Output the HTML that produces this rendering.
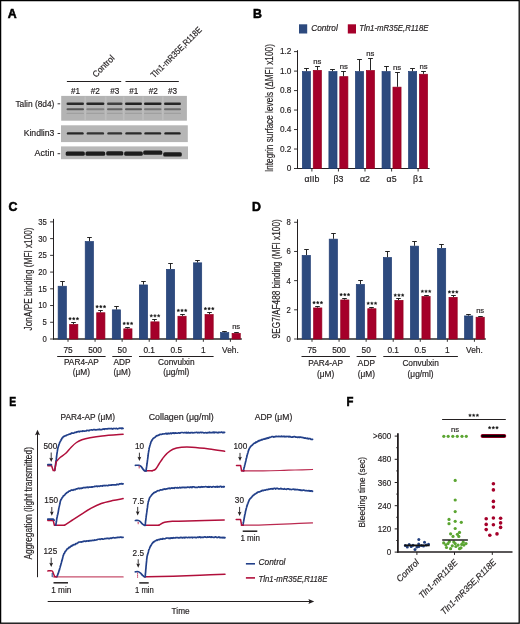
<!DOCTYPE html>
<html><head><meta charset="utf-8"><style>
html,body{margin:0;padding:0;background:#fff;}
svg{display:block;}
text{font-family:"Liberation Sans", sans-serif;fill:#231f20;stroke:#231f20;stroke-width:0.18px;}
svg{filter:grayscale(0);}
</style></head><body>
<svg width="520" height="624" viewBox="0 0 520 624">
<defs>
<filter id="b6" x="-20%" y="-100%" width="140%" height="300%"><feGaussianBlur stdDeviation="0.6"/></filter>
<filter id="b7" x="-20%" y="-100%" width="140%" height="300%"><feGaussianBlur stdDeviation="0.7"/></filter>
<filter id="b8" x="-20%" y="-100%" width="140%" height="300%"><feGaussianBlur stdDeviation="0.8"/></filter>
<filter id="b5" x="-20%" y="-100%" width="140%" height="300%"><feGaussianBlur stdDeviation="0.5"/></filter>
</defs>
<rect x="0" y="0" width="520" height="624" fill="#fff"/>
<text x="7.80" y="17.80" font-size="12.3" font-weight="bold" fill="#000" style="stroke-width:0.55px;fill:#000;stroke:#000">A</text>
<text x="252.90" y="18.30" font-size="12.3" font-weight="bold" fill="#000" style="stroke-width:0.55px;fill:#000;stroke:#000">B</text>
<text x="8.40" y="211.40" font-size="12.3" font-weight="bold" fill="#000" style="stroke-width:0.55px;fill:#000;stroke:#000">C</text>
<text x="251.90" y="211.40" font-size="12.3" font-weight="bold" fill="#000" style="stroke-width:0.55px;fill:#000;stroke:#000">D</text>
<text x="9.30" y="406.30" font-size="12.3" font-weight="bold" fill="#000" textLength="6.9" lengthAdjust="spacingAndGlyphs" style="stroke-width:0.55px;fill:#000;stroke:#000">E</text>
<text x="346.50" y="406.30" font-size="12.3" font-weight="bold" fill="#000" textLength="6.9" lengthAdjust="spacingAndGlyphs" style="stroke-width:0.55px;fill:#000;stroke:#000">F</text>
<text x="96.00" y="77.90" font-size="8.8" textLength="27.0" lengthAdjust="spacingAndGlyphs" transform="rotate(-45 96.00 77.90)">Control</text>
<text x="154.30" y="78.50" font-size="8.8" textLength="68" lengthAdjust="spacingAndGlyphs" transform="rotate(-45 154.30 78.50)">Tln1-mR35E,R118E</text>
<line x1="66.90" y1="81.50" x2="121.20" y2="81.50" stroke="#231f20" stroke-width="1.0"/>
<line x1="125.50" y1="81.50" x2="178.80" y2="81.50" stroke="#231f20" stroke-width="1.0"/>
<text x="75.60" y="94.00" font-size="8.2" text-anchor="middle">#1</text>
<text x="95.30" y="94.00" font-size="8.2" text-anchor="middle">#2</text>
<text x="114.70" y="94.00" font-size="8.2" text-anchor="middle">#3</text>
<text x="133.70" y="94.00" font-size="8.2" text-anchor="middle">#1</text>
<text x="153.20" y="94.00" font-size="8.2" text-anchor="middle">#2</text>
<text x="172.50" y="94.00" font-size="8.2" text-anchor="middle">#3</text>
<text x="54.40" y="107.00" font-size="8.3" text-anchor="end" textLength="39" lengthAdjust="spacingAndGlyphs">Talin (8d4)</text>
<text x="54.40" y="136.00" font-size="8.3" text-anchor="end" textLength="30.7" lengthAdjust="spacingAndGlyphs">Kindlin3</text>
<text x="54.40" y="155.50" font-size="8.3" text-anchor="end" textLength="19.8" lengthAdjust="spacingAndGlyphs">Actin</text>
<line x1="57.60" y1="103.80" x2="60.20" y2="103.80" stroke="#231f20" stroke-width="0.9"/>
<line x1="57.60" y1="133.50" x2="60.20" y2="133.50" stroke="#231f20" stroke-width="0.9"/>
<line x1="57.60" y1="153.70" x2="60.20" y2="153.70" stroke="#231f20" stroke-width="0.9"/>
<rect x="61.20" y="95.90" width="125.70" height="24.80" fill="#b3b3b3"/>
<rect x="61.00" y="125.30" width="126.80" height="16.80" fill="#b6b6b6"/>
<rect x="61.00" y="146.40" width="127.00" height="12.80" fill="#b8b8b8"/>
<rect x="84.40" y="96.5" width="1.6" height="23.5" fill="#bdbdbd" filter="url(#b6)"/>
<rect x="104.90" y="96.5" width="1.6" height="23.5" fill="#bdbdbd" filter="url(#b6)"/>
<rect x="122.90" y="96.5" width="1.6" height="23.5" fill="#bdbdbd" filter="url(#b6)"/>
<rect x="142.20" y="96.5" width="1.6" height="23.5" fill="#bdbdbd" filter="url(#b6)"/>
<rect x="162.00" y="96.5" width="1.6" height="23.5" fill="#bdbdbd" filter="url(#b6)"/>
<rect x="66.50" y="102.40" width="17.50" height="2.60" rx="1.30" fill="#2c2c2c" filter="url(#b5)"/>
<rect x="66.50" y="108.30" width="17.50" height="2.00" rx="1.00" fill="#555555" filter="url(#b5)"/>
<rect x="66.50" y="112.80" width="17.50" height="1.20" rx="0.60" fill="#a0a0a0" filter="url(#b5)"/>
<rect x="86.30" y="102.40" width="18.10" height="2.60" rx="1.30" fill="#262626" filter="url(#b5)"/>
<rect x="86.30" y="108.30" width="18.10" height="2.00" rx="1.00" fill="#808080" filter="url(#b5)"/>
<rect x="86.30" y="112.80" width="18.10" height="1.20" rx="0.60" fill="#a0a0a0" filter="url(#b5)"/>
<rect x="107.00" y="102.40" width="15.50" height="2.60" rx="1.30" fill="#404040" filter="url(#b5)"/>
<rect x="107.00" y="108.30" width="15.50" height="2.00" rx="1.00" fill="#646464" filter="url(#b5)"/>
<rect x="107.00" y="112.80" width="15.50" height="1.20" rx="0.60" fill="#a0a0a0" filter="url(#b5)"/>
<rect x="125.00" y="102.40" width="17.00" height="2.60" rx="1.30" fill="#242424" filter="url(#b5)"/>
<rect x="125.00" y="108.30" width="17.00" height="2.00" rx="1.00" fill="#5a5a5a" filter="url(#b5)"/>
<rect x="125.00" y="112.80" width="17.00" height="1.20" rx="0.60" fill="#a0a0a0" filter="url(#b5)"/>
<rect x="144.00" y="102.40" width="17.50" height="2.60" rx="1.30" fill="#202020" filter="url(#b5)"/>
<rect x="144.00" y="108.30" width="17.50" height="2.00" rx="1.00" fill="#767676" filter="url(#b5)"/>
<rect x="144.00" y="112.80" width="17.50" height="1.20" rx="0.60" fill="#a0a0a0" filter="url(#b5)"/>
<rect x="164.00" y="102.40" width="17.00" height="2.60" rx="1.30" fill="#282828" filter="url(#b5)"/>
<rect x="164.00" y="108.30" width="17.00" height="2.00" rx="1.00" fill="#6a6a6a" filter="url(#b5)"/>
<rect x="164.00" y="112.80" width="17.00" height="1.20" rx="0.60" fill="#a0a0a0" filter="url(#b5)"/>
<rect x="66.80" y="132.20" width="16.90" height="2.40" rx="1.20" fill="#262626" filter="url(#b5)"/>
<rect x="86.60" y="132.20" width="17.50" height="2.40" rx="1.20" fill="#303030" filter="url(#b5)"/>
<rect x="107.30" y="132.20" width="14.90" height="2.40" rx="1.20" fill="#333333" filter="url(#b5)"/>
<rect x="125.30" y="132.20" width="16.40" height="2.40" rx="1.20" fill="#2a2a2a" filter="url(#b5)"/>
<rect x="144.30" y="132.20" width="16.90" height="2.40" rx="1.20" fill="#282828" filter="url(#b5)"/>
<rect x="164.30" y="132.20" width="16.40" height="2.40" rx="1.20" fill="#242424" filter="url(#b5)"/>
<rect x="65.70" y="151.40" width="19.10" height="4.40" rx="1.50" fill="#1a1a1a" filter="url(#b5)"/>
<rect x="85.50" y="151.40" width="19.70" height="4.40" rx="1.50" fill="#1a1a1a" filter="url(#b5)"/>
<rect x="106.20" y="151.20" width="17.10" height="4.40" rx="1.50" fill="#1a1a1a" filter="url(#b5)"/>
<rect x="124.20" y="151.40" width="18.60" height="4.40" rx="1.50" fill="#1a1a1a" filter="url(#b5)"/>
<rect x="143.20" y="150.40" width="19.10" height="4.40" rx="1.50" fill="#1a1a1a" filter="url(#b5)"/>
<rect x="163.20" y="152.20" width="18.60" height="4.40" rx="1.50" fill="#1a1a1a" filter="url(#b5)"/>
<line x1="297.50" y1="50.20" x2="297.50" y2="169.00" stroke="#231f20" stroke-width="1.0"/>
<line x1="297.00" y1="168.50" x2="429.60" y2="168.50" stroke="#231f20" stroke-width="1.0"/>
<line x1="294.00" y1="168.50" x2="297.50" y2="168.50" stroke="#231f20" stroke-width="0.9"/>
<text x="291.40" y="171.20" font-size="8.9" text-anchor="end" textLength="4.6" lengthAdjust="spacingAndGlyphs">0</text>
<line x1="294.00" y1="149.02" x2="297.50" y2="149.02" stroke="#231f20" stroke-width="0.9"/>
<text x="291.40" y="151.72" font-size="8.9" text-anchor="end" textLength="11.51" lengthAdjust="spacingAndGlyphs">0.2</text>
<line x1="294.00" y1="129.54" x2="297.50" y2="129.54" stroke="#231f20" stroke-width="0.9"/>
<text x="291.40" y="132.24" font-size="8.9" text-anchor="end" textLength="11.51" lengthAdjust="spacingAndGlyphs">0.4</text>
<line x1="294.00" y1="110.06" x2="297.50" y2="110.06" stroke="#231f20" stroke-width="0.9"/>
<text x="291.40" y="112.76" font-size="8.9" text-anchor="end" textLength="11.51" lengthAdjust="spacingAndGlyphs">0.6</text>
<line x1="294.00" y1="90.58" x2="297.50" y2="90.58" stroke="#231f20" stroke-width="0.9"/>
<text x="291.40" y="93.28" font-size="8.9" text-anchor="end" textLength="11.51" lengthAdjust="spacingAndGlyphs">0.8</text>
<line x1="294.00" y1="71.10" x2="297.50" y2="71.10" stroke="#231f20" stroke-width="0.9"/>
<text x="291.40" y="73.80" font-size="8.9" text-anchor="end" textLength="11.51" lengthAdjust="spacingAndGlyphs">1.0</text>
<line x1="294.00" y1="51.62" x2="297.50" y2="51.62" stroke="#231f20" stroke-width="0.9"/>
<text x="291.40" y="54.32" font-size="8.9" text-anchor="end" textLength="11.51" lengthAdjust="spacingAndGlyphs">1.2</text>
<text x="273.20" y="108.10" font-size="10.5" text-anchor="middle" textLength="128.0" lengthAdjust="spacingAndGlyphs" transform="rotate(-90 273.20 108.10)">Integrin surface levels (ΔMFI x100)</text>
<rect x="302.35" y="71.60" width="8.10" height="96.90" fill="#2d4a7e" stroke="#223e75" stroke-width="0.7"/>
<rect x="313.25" y="70.35" width="8.10" height="98.15" fill="#a5002a" stroke="#95001f" stroke-width="0.7"/>
<line x1="306.50" y1="71.25" x2="306.50" y2="68.50" stroke="#1a1a1a" stroke-width="0.95"/>
<line x1="304.10" y1="68.50" x2="308.90" y2="68.50" stroke="#1a1a1a" stroke-width="0.95"/>
<line x1="317.50" y1="70.00" x2="317.50" y2="66.50" stroke="#1a1a1a" stroke-width="0.95"/>
<line x1="315.10" y1="66.50" x2="319.90" y2="66.50" stroke="#1a1a1a" stroke-width="0.95"/>
<text x="317.30" y="64.00" font-size="7.7" text-anchor="middle">ns</text>
<line x1="311.90" y1="168.50" x2="311.90" y2="171.50" stroke="#231f20" stroke-width="0.9"/>
<text x="311.90" y="182.30" font-size="8.8" text-anchor="middle">αIIb</text>
<rect x="328.90" y="71.60" width="8.10" height="96.90" fill="#2d4a7e" stroke="#223e75" stroke-width="0.7"/>
<rect x="339.80" y="76.65" width="8.10" height="91.85" fill="#a5002a" stroke="#95001f" stroke-width="0.7"/>
<line x1="332.50" y1="71.25" x2="332.50" y2="69.50" stroke="#1a1a1a" stroke-width="0.95"/>
<line x1="330.10" y1="69.50" x2="334.90" y2="69.50" stroke="#1a1a1a" stroke-width="0.95"/>
<line x1="343.50" y1="76.30" x2="343.50" y2="71.50" stroke="#1a1a1a" stroke-width="0.95"/>
<line x1="341.10" y1="71.50" x2="345.90" y2="71.50" stroke="#1a1a1a" stroke-width="0.95"/>
<text x="343.85" y="69.30" font-size="7.7" text-anchor="middle">ns</text>
<line x1="338.45" y1="168.50" x2="338.45" y2="171.50" stroke="#231f20" stroke-width="0.9"/>
<text x="338.45" y="182.30" font-size="8.8" text-anchor="middle">β3</text>
<rect x="355.45" y="71.60" width="8.10" height="96.90" fill="#2d4a7e" stroke="#223e75" stroke-width="0.7"/>
<rect x="366.35" y="70.55" width="8.10" height="97.95" fill="#a5002a" stroke="#95001f" stroke-width="0.7"/>
<line x1="359.50" y1="71.25" x2="359.50" y2="59.50" stroke="#1a1a1a" stroke-width="0.95"/>
<line x1="357.10" y1="59.50" x2="361.90" y2="59.50" stroke="#1a1a1a" stroke-width="0.95"/>
<line x1="370.50" y1="70.20" x2="370.50" y2="58.50" stroke="#1a1a1a" stroke-width="0.95"/>
<line x1="368.10" y1="58.50" x2="372.90" y2="58.50" stroke="#1a1a1a" stroke-width="0.95"/>
<text x="370.40" y="55.90" font-size="7.7" text-anchor="middle">ns</text>
<line x1="365.00" y1="168.50" x2="365.00" y2="171.50" stroke="#231f20" stroke-width="0.9"/>
<text x="365.00" y="182.30" font-size="8.8" text-anchor="middle">α2</text>
<rect x="382.05" y="71.60" width="8.10" height="96.90" fill="#2d4a7e" stroke="#223e75" stroke-width="0.7"/>
<rect x="392.95" y="87.15" width="8.10" height="81.35" fill="#a5002a" stroke="#95001f" stroke-width="0.7"/>
<line x1="386.50" y1="71.25" x2="386.50" y2="66.50" stroke="#1a1a1a" stroke-width="0.95"/>
<line x1="384.10" y1="66.50" x2="388.90" y2="66.50" stroke="#1a1a1a" stroke-width="0.95"/>
<line x1="397.50" y1="86.80" x2="397.50" y2="72.50" stroke="#1a1a1a" stroke-width="0.95"/>
<line x1="395.10" y1="72.50" x2="399.90" y2="72.50" stroke="#1a1a1a" stroke-width="0.95"/>
<text x="397.00" y="69.80" font-size="7.7" text-anchor="middle">ns</text>
<line x1="391.60" y1="168.50" x2="391.60" y2="171.50" stroke="#231f20" stroke-width="0.9"/>
<text x="391.60" y="182.30" font-size="8.8" text-anchor="middle">α5</text>
<rect x="408.55" y="71.60" width="8.10" height="96.90" fill="#2d4a7e" stroke="#223e75" stroke-width="0.7"/>
<rect x="419.45" y="74.25" width="8.10" height="94.25" fill="#a5002a" stroke="#95001f" stroke-width="0.7"/>
<line x1="412.50" y1="71.25" x2="412.50" y2="68.50" stroke="#1a1a1a" stroke-width="0.95"/>
<line x1="410.10" y1="68.50" x2="414.90" y2="68.50" stroke="#1a1a1a" stroke-width="0.95"/>
<line x1="423.50" y1="73.90" x2="423.50" y2="71.50" stroke="#1a1a1a" stroke-width="0.95"/>
<line x1="421.10" y1="71.50" x2="425.90" y2="71.50" stroke="#1a1a1a" stroke-width="0.95"/>
<text x="423.50" y="68.75" font-size="7.7" text-anchor="middle">ns</text>
<line x1="418.10" y1="168.50" x2="418.10" y2="171.50" stroke="#231f20" stroke-width="0.9"/>
<text x="418.10" y="182.30" font-size="8.8" text-anchor="middle">β1</text>
<rect x="299.00" y="24.30" width="8.20" height="9.20" fill="#2d4a7e"/>
<text x="311.20" y="31.10" font-size="8.2" font-style="italic" textLength="26.6" lengthAdjust="spacingAndGlyphs">Control</text>
<rect x="347.80" y="24.30" width="8.20" height="9.20" fill="#a5002a"/>
<text x="359.20" y="31.10" font-size="8.2" font-style="italic" textLength="69.3" lengthAdjust="spacingAndGlyphs">Tln1-mR35E,R118E</text>
<line x1="53.50" y1="218.89" x2="53.50" y2="339.50" stroke="#231f20" stroke-width="1.0"/>
<line x1="53.00" y1="339.00" x2="241.80" y2="339.00" stroke="#2a2a2a" stroke-width="1.5"/>
<line x1="50.10" y1="339.00" x2="53.50" y2="339.00" stroke="#231f20" stroke-width="0.9"/>
<text x="46.90" y="341.90" font-size="9.0" text-anchor="end" textLength="4.3" lengthAdjust="spacingAndGlyphs">0</text>
<line x1="50.10" y1="322.27" x2="53.50" y2="322.27" stroke="#231f20" stroke-width="0.9"/>
<text x="46.90" y="325.17" font-size="9.0" text-anchor="end" textLength="4.3" lengthAdjust="spacingAndGlyphs">5</text>
<line x1="50.10" y1="305.54" x2="53.50" y2="305.54" stroke="#231f20" stroke-width="0.9"/>
<text x="46.90" y="308.44" font-size="9.0" text-anchor="end" textLength="8.61" lengthAdjust="spacingAndGlyphs">10</text>
<line x1="50.10" y1="288.81" x2="53.50" y2="288.81" stroke="#231f20" stroke-width="0.9"/>
<text x="46.90" y="291.71" font-size="9.0" text-anchor="end" textLength="8.61" lengthAdjust="spacingAndGlyphs">15</text>
<line x1="50.10" y1="272.08" x2="53.50" y2="272.08" stroke="#231f20" stroke-width="0.9"/>
<text x="46.90" y="274.98" font-size="9.0" text-anchor="end" textLength="8.61" lengthAdjust="spacingAndGlyphs">20</text>
<line x1="50.10" y1="255.35" x2="53.50" y2="255.35" stroke="#231f20" stroke-width="0.9"/>
<text x="46.90" y="258.25" font-size="9.0" text-anchor="end" textLength="8.61" lengthAdjust="spacingAndGlyphs">25</text>
<line x1="50.10" y1="238.62" x2="53.50" y2="238.62" stroke="#231f20" stroke-width="0.9"/>
<text x="46.90" y="241.52" font-size="9.0" text-anchor="end" textLength="8.61" lengthAdjust="spacingAndGlyphs">30</text>
<line x1="50.10" y1="221.89" x2="53.50" y2="221.89" stroke="#231f20" stroke-width="0.9"/>
<text x="46.90" y="224.79" font-size="9.0" text-anchor="end" textLength="8.61" lengthAdjust="spacingAndGlyphs">35</text>
<text x="31.80" y="278.90" font-size="10.5" text-anchor="middle" textLength="103.0" lengthAdjust="spacingAndGlyphs" transform="rotate(-90 31.80 278.90)">JonA/PE binding (MFI x100)</text>
<rect x="58.15" y="286.25" width="8.20" height="52.75" fill="#2d4a7e" stroke="#223e75" stroke-width="0.7"/>
<rect x="69.65" y="324.45" width="8.20" height="14.55" fill="#a5002a" stroke="#95001f" stroke-width="0.7"/>
<line x1="62.50" y1="285.90" x2="62.50" y2="281.50" stroke="#1a1a1a" stroke-width="0.95"/>
<line x1="60.20" y1="281.50" x2="64.80" y2="281.50" stroke="#1a1a1a" stroke-width="0.95"/>
<line x1="73.50" y1="324.10" x2="73.50" y2="322.50" stroke="#1a1a1a" stroke-width="0.95"/>
<line x1="71.20" y1="322.50" x2="75.80" y2="322.50" stroke="#1a1a1a" stroke-width="0.95"/>
<line x1="68.00" y1="339.00" x2="68.00" y2="341.80" stroke="#231f20" stroke-width="0.9"/>
<polygon points="70.05,317.20 70.51,318.12 71.52,318.27 70.79,318.99 70.96,320.00 70.05,319.52 69.14,320.00 69.31,318.99 68.58,318.27 69.59,318.12" fill="#1a1a1a" stroke="#1a1a1a" stroke-width="0.35" stroke-linejoin="round"/>
<polygon points="73.75,317.20 74.21,318.12 75.22,318.27 74.49,318.99 74.66,320.00 73.75,319.52 72.84,320.00 73.01,318.99 72.28,318.27 73.29,318.12" fill="#1a1a1a" stroke="#1a1a1a" stroke-width="0.35" stroke-linejoin="round"/>
<polygon points="77.45,317.20 77.91,318.12 78.92,318.27 78.19,318.99 78.36,320.00 77.45,319.52 76.54,320.00 76.71,318.99 75.98,318.27 76.99,318.12" fill="#1a1a1a" stroke="#1a1a1a" stroke-width="0.35" stroke-linejoin="round"/>
<rect x="85.22" y="241.55" width="8.20" height="97.45" fill="#2d4a7e" stroke="#223e75" stroke-width="0.7"/>
<rect x="96.72" y="312.75" width="8.20" height="26.25" fill="#a5002a" stroke="#95001f" stroke-width="0.7"/>
<line x1="89.50" y1="241.20" x2="89.50" y2="237.50" stroke="#1a1a1a" stroke-width="0.95"/>
<line x1="87.20" y1="237.50" x2="91.80" y2="237.50" stroke="#1a1a1a" stroke-width="0.95"/>
<line x1="100.50" y1="312.40" x2="100.50" y2="310.50" stroke="#1a1a1a" stroke-width="0.95"/>
<line x1="98.20" y1="310.50" x2="102.80" y2="310.50" stroke="#1a1a1a" stroke-width="0.95"/>
<line x1="95.07" y1="339.00" x2="95.07" y2="341.80" stroke="#231f20" stroke-width="0.9"/>
<polygon points="97.12,305.10 97.58,306.02 98.59,306.17 97.86,306.89 98.03,307.90 97.12,307.42 96.21,307.90 96.38,306.89 95.65,306.17 96.66,306.02" fill="#1a1a1a" stroke="#1a1a1a" stroke-width="0.35" stroke-linejoin="round"/>
<polygon points="100.82,305.10 101.28,306.02 102.29,306.17 101.56,306.89 101.73,307.90 100.82,307.42 99.91,307.90 100.08,306.89 99.35,306.17 100.36,306.02" fill="#1a1a1a" stroke="#1a1a1a" stroke-width="0.35" stroke-linejoin="round"/>
<polygon points="104.52,305.10 104.98,306.02 105.99,306.17 105.26,306.89 105.43,307.90 104.52,307.42 103.61,307.90 103.78,306.89 103.05,306.17 104.06,306.02" fill="#1a1a1a" stroke="#1a1a1a" stroke-width="0.35" stroke-linejoin="round"/>
<rect x="112.29" y="309.85" width="8.20" height="29.15" fill="#2d4a7e" stroke="#223e75" stroke-width="0.7"/>
<rect x="123.79" y="328.85" width="8.20" height="10.15" fill="#a5002a" stroke="#95001f" stroke-width="0.7"/>
<line x1="116.50" y1="309.50" x2="116.50" y2="306.50" stroke="#1a1a1a" stroke-width="0.95"/>
<line x1="114.20" y1="306.50" x2="118.80" y2="306.50" stroke="#1a1a1a" stroke-width="0.95"/>
<line x1="127.50" y1="328.50" x2="127.50" y2="327.50" stroke="#1a1a1a" stroke-width="0.95"/>
<line x1="125.20" y1="327.50" x2="129.80" y2="327.50" stroke="#1a1a1a" stroke-width="0.95"/>
<line x1="122.14" y1="339.00" x2="122.14" y2="341.80" stroke="#231f20" stroke-width="0.9"/>
<polygon points="124.19,321.90 124.65,322.82 125.66,322.97 124.93,323.69 125.10,324.70 124.19,324.22 123.28,324.70 123.45,323.69 122.72,322.97 123.73,322.82" fill="#1a1a1a" stroke="#1a1a1a" stroke-width="0.35" stroke-linejoin="round"/>
<polygon points="127.89,321.90 128.35,322.82 129.36,322.97 128.63,323.69 128.80,324.70 127.89,324.22 126.98,324.70 127.15,323.69 126.42,322.97 127.43,322.82" fill="#1a1a1a" stroke="#1a1a1a" stroke-width="0.35" stroke-linejoin="round"/>
<polygon points="131.59,321.90 132.05,322.82 133.06,322.97 132.33,323.69 132.50,324.70 131.59,324.22 130.68,324.70 130.85,323.69 130.12,322.97 131.13,322.82" fill="#1a1a1a" stroke="#1a1a1a" stroke-width="0.35" stroke-linejoin="round"/>
<rect x="139.36" y="284.95" width="8.20" height="54.05" fill="#2d4a7e" stroke="#223e75" stroke-width="0.7"/>
<rect x="150.86" y="321.85" width="8.20" height="17.15" fill="#a5002a" stroke="#95001f" stroke-width="0.7"/>
<line x1="143.50" y1="284.60" x2="143.50" y2="281.50" stroke="#1a1a1a" stroke-width="0.95"/>
<line x1="141.20" y1="281.50" x2="145.80" y2="281.50" stroke="#1a1a1a" stroke-width="0.95"/>
<line x1="154.50" y1="321.50" x2="154.50" y2="319.50" stroke="#1a1a1a" stroke-width="0.95"/>
<line x1="152.20" y1="319.50" x2="156.80" y2="319.50" stroke="#1a1a1a" stroke-width="0.95"/>
<line x1="149.21" y1="339.00" x2="149.21" y2="341.80" stroke="#231f20" stroke-width="0.9"/>
<polygon points="151.26,314.30 151.72,315.22 152.73,315.37 152.00,316.09 152.17,317.10 151.26,316.62 150.35,317.10 150.52,316.09 149.79,315.37 150.80,315.22" fill="#1a1a1a" stroke="#1a1a1a" stroke-width="0.35" stroke-linejoin="round"/>
<polygon points="154.96,314.30 155.42,315.22 156.43,315.37 155.70,316.09 155.87,317.10 154.96,316.62 154.05,317.10 154.22,316.09 153.49,315.37 154.50,315.22" fill="#1a1a1a" stroke="#1a1a1a" stroke-width="0.35" stroke-linejoin="round"/>
<polygon points="158.66,314.30 159.12,315.22 160.13,315.37 159.40,316.09 159.57,317.10 158.66,316.62 157.75,317.10 157.92,316.09 157.19,315.37 158.20,315.22" fill="#1a1a1a" stroke="#1a1a1a" stroke-width="0.35" stroke-linejoin="round"/>
<rect x="166.43" y="269.35" width="8.20" height="69.65" fill="#2d4a7e" stroke="#223e75" stroke-width="0.7"/>
<rect x="177.93" y="316.25" width="8.20" height="22.75" fill="#a5002a" stroke="#95001f" stroke-width="0.7"/>
<line x1="170.50" y1="269.00" x2="170.50" y2="263.50" stroke="#1a1a1a" stroke-width="0.95"/>
<line x1="168.20" y1="263.50" x2="172.80" y2="263.50" stroke="#1a1a1a" stroke-width="0.95"/>
<line x1="182.50" y1="315.90" x2="182.50" y2="314.50" stroke="#1a1a1a" stroke-width="0.95"/>
<line x1="180.20" y1="314.50" x2="184.80" y2="314.50" stroke="#1a1a1a" stroke-width="0.95"/>
<line x1="176.28" y1="339.00" x2="176.28" y2="341.80" stroke="#231f20" stroke-width="0.9"/>
<polygon points="178.33,308.90 178.79,309.82 179.80,309.97 179.07,310.69 179.24,311.70 178.33,311.22 177.42,311.70 177.59,310.69 176.86,309.97 177.87,309.82" fill="#1a1a1a" stroke="#1a1a1a" stroke-width="0.35" stroke-linejoin="round"/>
<polygon points="182.03,308.90 182.49,309.82 183.50,309.97 182.77,310.69 182.94,311.70 182.03,311.22 181.12,311.70 181.29,310.69 180.56,309.97 181.57,309.82" fill="#1a1a1a" stroke="#1a1a1a" stroke-width="0.35" stroke-linejoin="round"/>
<polygon points="185.73,308.90 186.19,309.82 187.20,309.97 186.47,310.69 186.64,311.70 185.73,311.22 184.82,311.70 184.99,310.69 184.26,309.97 185.27,309.82" fill="#1a1a1a" stroke="#1a1a1a" stroke-width="0.35" stroke-linejoin="round"/>
<rect x="193.50" y="262.85" width="8.20" height="76.15" fill="#2d4a7e" stroke="#223e75" stroke-width="0.7"/>
<rect x="205.00" y="314.55" width="8.20" height="24.45" fill="#a5002a" stroke="#95001f" stroke-width="0.7"/>
<line x1="197.50" y1="262.50" x2="197.50" y2="260.50" stroke="#1a1a1a" stroke-width="0.95"/>
<line x1="195.20" y1="260.50" x2="199.80" y2="260.50" stroke="#1a1a1a" stroke-width="0.95"/>
<line x1="209.50" y1="314.20" x2="209.50" y2="312.50" stroke="#1a1a1a" stroke-width="0.95"/>
<line x1="207.20" y1="312.50" x2="211.80" y2="312.50" stroke="#1a1a1a" stroke-width="0.95"/>
<line x1="203.35" y1="339.00" x2="203.35" y2="341.80" stroke="#231f20" stroke-width="0.9"/>
<polygon points="205.40,307.10 205.86,308.02 206.87,308.17 206.14,308.89 206.31,309.90 205.40,309.42 204.49,309.90 204.66,308.89 203.93,308.17 204.94,308.02" fill="#1a1a1a" stroke="#1a1a1a" stroke-width="0.35" stroke-linejoin="round"/>
<polygon points="209.10,307.10 209.56,308.02 210.57,308.17 209.84,308.89 210.01,309.90 209.10,309.42 208.19,309.90 208.36,308.89 207.63,308.17 208.64,308.02" fill="#1a1a1a" stroke="#1a1a1a" stroke-width="0.35" stroke-linejoin="round"/>
<polygon points="212.80,307.10 213.26,308.02 214.27,308.17 213.54,308.89 213.71,309.90 212.80,309.42 211.89,309.90 212.06,308.89 211.33,308.17 212.34,308.02" fill="#1a1a1a" stroke="#1a1a1a" stroke-width="0.35" stroke-linejoin="round"/>
<rect x="220.57" y="332.65" width="8.20" height="6.35" fill="#2d4a7e" stroke="#223e75" stroke-width="0.7"/>
<rect x="232.07" y="333.35" width="8.20" height="5.65" fill="#a5002a" stroke="#95001f" stroke-width="0.7"/>
<line x1="224.50" y1="332.30" x2="224.50" y2="331.50" stroke="#1a1a1a" stroke-width="0.95"/>
<line x1="222.20" y1="331.50" x2="226.80" y2="331.50" stroke="#1a1a1a" stroke-width="0.95"/>
<line x1="236.50" y1="333.00" x2="236.50" y2="332.50" stroke="#1a1a1a" stroke-width="0.95"/>
<line x1="234.20" y1="332.50" x2="238.80" y2="332.50" stroke="#1a1a1a" stroke-width="0.95"/>
<line x1="230.42" y1="339.00" x2="230.42" y2="341.80" stroke="#231f20" stroke-width="0.9"/>
<text x="236.17" y="328.70" font-size="7.6" text-anchor="middle">ns</text>
<text x="68.00" y="352.50" font-size="8.3" text-anchor="middle">75</text>
<text x="95.07" y="352.50" font-size="8.3" text-anchor="middle">500</text>
<text x="122.14" y="352.50" font-size="8.3" text-anchor="middle">50</text>
<text x="149.21" y="352.50" font-size="8.3" text-anchor="middle">0.1</text>
<text x="176.28" y="352.50" font-size="8.3" text-anchor="middle">0.5</text>
<text x="203.35" y="352.50" font-size="8.3" text-anchor="middle">1</text>
<text x="230.42" y="352.50" font-size="8.3" text-anchor="middle">Veh.</text>
<line x1="57.20" y1="356.50" x2="105.60" y2="356.50" stroke="#231f20" stroke-width="1.0"/>
<line x1="112.30" y1="356.50" x2="131.90" y2="356.50" stroke="#231f20" stroke-width="1.0"/>
<line x1="139.00" y1="356.50" x2="213.60" y2="356.50" stroke="#231f20" stroke-width="1.0"/>
<text x="81.40" y="364.90" font-size="8.3" text-anchor="middle">PAR4-AP</text>
<text x="81.40" y="375.10" font-size="8.3" text-anchor="middle">(μM)</text>
<text x="122.10" y="364.90" font-size="8.3" text-anchor="middle">ADP</text>
<text x="122.10" y="375.10" font-size="8.3" text-anchor="middle">(μM)</text>
<text x="176.30" y="364.90" font-size="8.3" text-anchor="middle">Convulxin</text>
<text x="176.30" y="375.10" font-size="8.3" text-anchor="middle">(μg/ml)</text>
<line x1="297.50" y1="219.28" x2="297.50" y2="339.50" stroke="#231f20" stroke-width="1.0"/>
<line x1="297.00" y1="339.00" x2="485.80" y2="339.00" stroke="#2a2a2a" stroke-width="1.5"/>
<line x1="294.10" y1="339.00" x2="297.50" y2="339.00" stroke="#231f20" stroke-width="0.9"/>
<text x="290.90" y="341.90" font-size="9.0" text-anchor="end" textLength="4.3" lengthAdjust="spacingAndGlyphs">0</text>
<line x1="294.10" y1="309.82" x2="297.50" y2="309.82" stroke="#231f20" stroke-width="0.9"/>
<text x="290.90" y="312.72" font-size="9.0" text-anchor="end" textLength="4.3" lengthAdjust="spacingAndGlyphs">2</text>
<line x1="294.10" y1="280.64" x2="297.50" y2="280.64" stroke="#231f20" stroke-width="0.9"/>
<text x="290.90" y="283.54" font-size="9.0" text-anchor="end" textLength="4.3" lengthAdjust="spacingAndGlyphs">4</text>
<line x1="294.10" y1="251.46" x2="297.50" y2="251.46" stroke="#231f20" stroke-width="0.9"/>
<text x="290.90" y="254.36" font-size="9.0" text-anchor="end" textLength="4.3" lengthAdjust="spacingAndGlyphs">6</text>
<line x1="294.10" y1="222.28" x2="297.50" y2="222.28" stroke="#231f20" stroke-width="0.9"/>
<text x="290.90" y="225.18" font-size="9.0" text-anchor="end" textLength="4.3" lengthAdjust="spacingAndGlyphs">8</text>
<text x="280.50" y="278.80" font-size="10.5" text-anchor="middle" textLength="119.3" lengthAdjust="spacingAndGlyphs" transform="rotate(-90 280.50 278.80)">9EG7/AF488 binding (MFI x100)</text>
<rect x="302.15" y="255.45" width="8.20" height="83.55" fill="#2d4a7e" stroke="#223e75" stroke-width="0.7"/>
<rect x="313.65" y="307.95" width="8.20" height="31.05" fill="#a5002a" stroke="#95001f" stroke-width="0.7"/>
<line x1="306.50" y1="255.10" x2="306.50" y2="249.50" stroke="#1a1a1a" stroke-width="0.95"/>
<line x1="304.20" y1="249.50" x2="308.80" y2="249.50" stroke="#1a1a1a" stroke-width="0.95"/>
<line x1="317.50" y1="307.60" x2="317.50" y2="306.50" stroke="#1a1a1a" stroke-width="0.95"/>
<line x1="315.20" y1="306.50" x2="319.80" y2="306.50" stroke="#1a1a1a" stroke-width="0.95"/>
<line x1="312.00" y1="339.00" x2="312.00" y2="341.80" stroke="#231f20" stroke-width="0.9"/>
<polygon points="314.05,301.10 314.51,302.02 315.52,302.17 314.79,302.89 314.96,303.90 314.05,303.42 313.14,303.90 313.31,302.89 312.58,302.17 313.59,302.02" fill="#1a1a1a" stroke="#1a1a1a" stroke-width="0.35" stroke-linejoin="round"/>
<polygon points="317.75,301.10 318.21,302.02 319.22,302.17 318.49,302.89 318.66,303.90 317.75,303.42 316.84,303.90 317.01,302.89 316.28,302.17 317.29,302.02" fill="#1a1a1a" stroke="#1a1a1a" stroke-width="0.35" stroke-linejoin="round"/>
<polygon points="321.45,301.10 321.91,302.02 322.92,302.17 322.19,302.89 322.36,303.90 321.45,303.42 320.54,303.90 320.71,302.89 319.98,302.17 320.99,302.02" fill="#1a1a1a" stroke="#1a1a1a" stroke-width="0.35" stroke-linejoin="round"/>
<rect x="329.22" y="239.15" width="8.20" height="99.85" fill="#2d4a7e" stroke="#223e75" stroke-width="0.7"/>
<rect x="340.72" y="299.95" width="8.20" height="39.05" fill="#a5002a" stroke="#95001f" stroke-width="0.7"/>
<line x1="333.50" y1="238.80" x2="333.50" y2="233.50" stroke="#1a1a1a" stroke-width="0.95"/>
<line x1="331.20" y1="233.50" x2="335.80" y2="233.50" stroke="#1a1a1a" stroke-width="0.95"/>
<line x1="344.50" y1="299.60" x2="344.50" y2="298.50" stroke="#1a1a1a" stroke-width="0.95"/>
<line x1="342.20" y1="298.50" x2="346.80" y2="298.50" stroke="#1a1a1a" stroke-width="0.95"/>
<line x1="339.07" y1="339.00" x2="339.07" y2="341.80" stroke="#231f20" stroke-width="0.9"/>
<polygon points="341.12,293.10 341.58,294.02 342.59,294.17 341.86,294.89 342.03,295.90 341.12,295.42 340.21,295.90 340.38,294.89 339.65,294.17 340.66,294.02" fill="#1a1a1a" stroke="#1a1a1a" stroke-width="0.35" stroke-linejoin="round"/>
<polygon points="344.82,293.10 345.28,294.02 346.29,294.17 345.56,294.89 345.73,295.90 344.82,295.42 343.91,295.90 344.08,294.89 343.35,294.17 344.36,294.02" fill="#1a1a1a" stroke="#1a1a1a" stroke-width="0.35" stroke-linejoin="round"/>
<polygon points="348.52,293.10 348.98,294.02 349.99,294.17 349.26,294.89 349.43,295.90 348.52,295.42 347.61,295.90 347.78,294.89 347.05,294.17 348.06,294.02" fill="#1a1a1a" stroke="#1a1a1a" stroke-width="0.35" stroke-linejoin="round"/>
<rect x="356.29" y="284.45" width="8.20" height="54.55" fill="#2d4a7e" stroke="#223e75" stroke-width="0.7"/>
<rect x="367.79" y="308.75" width="8.20" height="30.25" fill="#a5002a" stroke="#95001f" stroke-width="0.7"/>
<line x1="360.50" y1="284.10" x2="360.50" y2="280.50" stroke="#1a1a1a" stroke-width="0.95"/>
<line x1="358.20" y1="280.50" x2="362.80" y2="280.50" stroke="#1a1a1a" stroke-width="0.95"/>
<line x1="371.50" y1="308.40" x2="371.50" y2="307.50" stroke="#1a1a1a" stroke-width="0.95"/>
<line x1="369.20" y1="307.50" x2="373.80" y2="307.50" stroke="#1a1a1a" stroke-width="0.95"/>
<line x1="366.14" y1="339.00" x2="366.14" y2="341.80" stroke="#231f20" stroke-width="0.9"/>
<polygon points="368.19,301.80 368.65,302.72 369.66,302.87 368.93,303.59 369.10,304.60 368.19,304.12 367.28,304.60 367.45,303.59 366.72,302.87 367.73,302.72" fill="#1a1a1a" stroke="#1a1a1a" stroke-width="0.35" stroke-linejoin="round"/>
<polygon points="371.89,301.80 372.35,302.72 373.36,302.87 372.63,303.59 372.80,304.60 371.89,304.12 370.98,304.60 371.15,303.59 370.42,302.87 371.43,302.72" fill="#1a1a1a" stroke="#1a1a1a" stroke-width="0.35" stroke-linejoin="round"/>
<polygon points="375.59,301.80 376.05,302.72 377.06,302.87 376.33,303.59 376.50,304.60 375.59,304.12 374.68,304.60 374.85,303.59 374.12,302.87 375.13,302.72" fill="#1a1a1a" stroke="#1a1a1a" stroke-width="0.35" stroke-linejoin="round"/>
<rect x="383.36" y="257.55" width="8.20" height="81.45" fill="#2d4a7e" stroke="#223e75" stroke-width="0.7"/>
<rect x="394.86" y="300.35" width="8.20" height="38.65" fill="#a5002a" stroke="#95001f" stroke-width="0.7"/>
<line x1="387.50" y1="257.20" x2="387.50" y2="251.50" stroke="#1a1a1a" stroke-width="0.95"/>
<line x1="385.20" y1="251.50" x2="389.80" y2="251.50" stroke="#1a1a1a" stroke-width="0.95"/>
<line x1="398.50" y1="300.00" x2="398.50" y2="298.50" stroke="#1a1a1a" stroke-width="0.95"/>
<line x1="396.20" y1="298.50" x2="400.80" y2="298.50" stroke="#1a1a1a" stroke-width="0.95"/>
<line x1="393.21" y1="339.00" x2="393.21" y2="341.80" stroke="#231f20" stroke-width="0.9"/>
<polygon points="395.26,293.60 395.72,294.52 396.73,294.67 396.00,295.39 396.17,296.40 395.26,295.92 394.35,296.40 394.52,295.39 393.79,294.67 394.80,294.52" fill="#1a1a1a" stroke="#1a1a1a" stroke-width="0.35" stroke-linejoin="round"/>
<polygon points="398.96,293.60 399.42,294.52 400.43,294.67 399.70,295.39 399.87,296.40 398.96,295.92 398.05,296.40 398.22,295.39 397.49,294.67 398.50,294.52" fill="#1a1a1a" stroke="#1a1a1a" stroke-width="0.35" stroke-linejoin="round"/>
<polygon points="402.66,293.60 403.12,294.52 404.13,294.67 403.40,295.39 403.57,296.40 402.66,295.92 401.75,296.40 401.92,295.39 401.19,294.67 402.20,294.52" fill="#1a1a1a" stroke="#1a1a1a" stroke-width="0.35" stroke-linejoin="round"/>
<rect x="410.43" y="246.15" width="8.20" height="92.85" fill="#2d4a7e" stroke="#223e75" stroke-width="0.7"/>
<rect x="421.93" y="296.55" width="8.20" height="42.45" fill="#a5002a" stroke="#95001f" stroke-width="0.7"/>
<line x1="414.50" y1="245.80" x2="414.50" y2="241.50" stroke="#1a1a1a" stroke-width="0.95"/>
<line x1="412.20" y1="241.50" x2="416.80" y2="241.50" stroke="#1a1a1a" stroke-width="0.95"/>
<line x1="426.50" y1="296.20" x2="426.50" y2="295.50" stroke="#1a1a1a" stroke-width="0.95"/>
<line x1="424.20" y1="295.50" x2="428.80" y2="295.50" stroke="#1a1a1a" stroke-width="0.95"/>
<line x1="420.28" y1="339.00" x2="420.28" y2="341.80" stroke="#231f20" stroke-width="0.9"/>
<polygon points="422.33,289.80 422.79,290.72 423.80,290.87 423.07,291.59 423.24,292.60 422.33,292.12 421.42,292.60 421.59,291.59 420.86,290.87 421.87,290.72" fill="#1a1a1a" stroke="#1a1a1a" stroke-width="0.35" stroke-linejoin="round"/>
<polygon points="426.03,289.80 426.49,290.72 427.50,290.87 426.77,291.59 426.94,292.60 426.03,292.12 425.12,292.60 425.29,291.59 424.56,290.87 425.57,290.72" fill="#1a1a1a" stroke="#1a1a1a" stroke-width="0.35" stroke-linejoin="round"/>
<polygon points="429.73,289.80 430.19,290.72 431.20,290.87 430.47,291.59 430.64,292.60 429.73,292.12 428.82,292.60 428.99,291.59 428.26,290.87 429.27,290.72" fill="#1a1a1a" stroke="#1a1a1a" stroke-width="0.35" stroke-linejoin="round"/>
<rect x="437.50" y="248.35" width="8.20" height="90.65" fill="#2d4a7e" stroke="#223e75" stroke-width="0.7"/>
<rect x="449.00" y="297.35" width="8.20" height="41.65" fill="#a5002a" stroke="#95001f" stroke-width="0.7"/>
<line x1="441.50" y1="248.00" x2="441.50" y2="244.50" stroke="#1a1a1a" stroke-width="0.95"/>
<line x1="439.20" y1="244.50" x2="443.80" y2="244.50" stroke="#1a1a1a" stroke-width="0.95"/>
<line x1="453.50" y1="297.00" x2="453.50" y2="295.50" stroke="#1a1a1a" stroke-width="0.95"/>
<line x1="451.20" y1="295.50" x2="455.80" y2="295.50" stroke="#1a1a1a" stroke-width="0.95"/>
<line x1="447.35" y1="339.00" x2="447.35" y2="341.80" stroke="#231f20" stroke-width="0.9"/>
<polygon points="449.40,290.40 449.86,291.32 450.87,291.47 450.14,292.19 450.31,293.20 449.40,292.72 448.49,293.20 448.66,292.19 447.93,291.47 448.94,291.32" fill="#1a1a1a" stroke="#1a1a1a" stroke-width="0.35" stroke-linejoin="round"/>
<polygon points="453.10,290.40 453.56,291.32 454.57,291.47 453.84,292.19 454.01,293.20 453.10,292.72 452.19,293.20 452.36,292.19 451.63,291.47 452.64,291.32" fill="#1a1a1a" stroke="#1a1a1a" stroke-width="0.35" stroke-linejoin="round"/>
<polygon points="456.80,290.40 457.26,291.32 458.27,291.47 457.54,292.19 457.71,293.20 456.80,292.72 455.89,293.20 456.06,292.19 455.33,291.47 456.34,291.32" fill="#1a1a1a" stroke="#1a1a1a" stroke-width="0.35" stroke-linejoin="round"/>
<rect x="464.57" y="315.95" width="8.20" height="23.05" fill="#2d4a7e" stroke="#223e75" stroke-width="0.7"/>
<rect x="476.07" y="317.25" width="8.20" height="21.75" fill="#a5002a" stroke="#95001f" stroke-width="0.7"/>
<line x1="468.50" y1="315.60" x2="468.50" y2="314.50" stroke="#1a1a1a" stroke-width="0.95"/>
<line x1="466.20" y1="314.50" x2="470.80" y2="314.50" stroke="#1a1a1a" stroke-width="0.95"/>
<line x1="480.50" y1="316.90" x2="480.50" y2="316.50" stroke="#1a1a1a" stroke-width="0.95"/>
<line x1="478.20" y1="316.50" x2="482.80" y2="316.50" stroke="#1a1a1a" stroke-width="0.95"/>
<line x1="474.42" y1="339.00" x2="474.42" y2="341.80" stroke="#231f20" stroke-width="0.9"/>
<text x="480.17" y="312.60" font-size="7.6" text-anchor="middle">ns</text>
<text x="312.00" y="352.95" font-size="8.3" text-anchor="middle">75</text>
<text x="339.07" y="352.95" font-size="8.3" text-anchor="middle">500</text>
<text x="366.14" y="352.95" font-size="8.3" text-anchor="middle">50</text>
<text x="393.21" y="352.95" font-size="8.3" text-anchor="middle">0.1</text>
<text x="420.28" y="352.95" font-size="8.3" text-anchor="middle">0.5</text>
<text x="447.35" y="352.95" font-size="8.3" text-anchor="middle">1</text>
<text x="474.42" y="352.95" font-size="8.3" text-anchor="middle">Veh.</text>
<line x1="301.50" y1="356.50" x2="349.90" y2="356.50" stroke="#231f20" stroke-width="1.0"/>
<line x1="356.60" y1="356.50" x2="376.20" y2="356.50" stroke="#231f20" stroke-width="1.0"/>
<line x1="383.30" y1="356.50" x2="457.90" y2="356.50" stroke="#231f20" stroke-width="1.0"/>
<text x="325.70" y="366.40" font-size="8.3" text-anchor="middle">PAR4-AP</text>
<text x="325.70" y="376.60" font-size="8.3" text-anchor="middle">(μM)</text>
<text x="366.40" y="366.40" font-size="8.3" text-anchor="middle">ADP</text>
<text x="366.40" y="376.60" font-size="8.3" text-anchor="middle">(μM)</text>
<text x="420.60" y="366.40" font-size="8.3" text-anchor="middle">Convulxin</text>
<text x="420.60" y="376.60" font-size="8.3" text-anchor="middle">(μg/ml)</text>
<text x="87.80" y="420.00" font-size="8.3" text-anchor="middle" textLength="54.5" lengthAdjust="spacingAndGlyphs">PAR4-AP (μM)</text>
<text x="181.20" y="420.20" font-size="8.3" text-anchor="middle" textLength="65" lengthAdjust="spacingAndGlyphs">Collagen (μg/ml)</text>
<text x="273.50" y="420.20" font-size="8.3" text-anchor="middle" textLength="37.5" lengthAdjust="spacingAndGlyphs">ADP (μM)</text>
<line x1="37.50" y1="433.00" x2="37.50" y2="577.20" stroke="#231f20" stroke-width="1.0"/>
<path d="M37.5,429.8 L35.0,435.3 L37.5,434.3 L40.0,435.3 Z" fill="#231f20"/>
<text x="32.00" y="503.30" font-size="10.6" text-anchor="middle" textLength="112.6" lengthAdjust="spacingAndGlyphs" transform="rotate(-90 32.00 503.30)">Aggregation (light transmitted)</text>
<line x1="47.70" y1="601.50" x2="311.00" y2="601.50" stroke="#231f20" stroke-width="1.0"/>
<path d="M314.2,601.5 L308.4,599.0 L309.4,601.5 L308.4,604.0 Z" fill="#231f20"/>
<text x="180.60" y="613.70" font-size="8.3" text-anchor="middle" textLength="18" lengthAdjust="spacingAndGlyphs">Time</text>
<text x="50.40" y="448.70" font-size="8.2" text-anchor="middle">500</text>
<line x1="51.20" y1="452.50" x2="51.20" y2="459.00" stroke="#231f20" stroke-width="0.9"/>
<path d="M51.20,462.10 L49.30,457.70 L51.20,458.50 L53.10,457.70 Z" fill="#231f20"/>
<path d="M56.30,461.50 C56.98,460.80 58.82,458.67 60.40,457.30 C61.98,455.93 64.00,454.98 65.80,453.30 C67.60,451.62 69.42,449.00 71.20,447.20 C72.98,445.40 74.72,443.73 76.50,442.50 C78.28,441.27 79.65,440.58 81.90,439.80 C84.15,439.02 86.63,438.43 90.00,437.80 C93.37,437.17 96.58,436.58 102.10,436.00 C107.62,435.42 119.60,434.58 123.10,434.30" fill="none" stroke="#b10f3b" stroke-width="1.5" stroke-linejoin="round" stroke-linecap="round"/>
<path d="M54.70,470.50 L54.75,470.02 L54.82,469.45 L54.90,469.27 L54.99,468.27 L55.09,467.96 L55.19,467.16 L55.29,466.23 L55.40,465.82 L55.51,464.76 L55.61,464.32 L55.71,463.37 L55.80,462.71 L55.88,462.34 L55.96,462.00 L56.04,460.88 L56.12,460.31 L56.20,459.95 L56.27,459.53 L56.35,458.63 L56.43,457.87 L56.50,457.65 L56.58,456.39 L56.65,456.37 L56.73,455.40 L56.80,454.75 L56.90,453.99 L57.00,453.41 L57.09,453.08 L57.18,451.99 L57.28,451.64 L57.37,451.07 L57.48,450.28 L57.58,449.82 L57.70,448.89 L57.84,448.24 L57.99,447.71 L58.15,447.42 L58.32,446.64 L58.49,445.98 L58.66,445.61 L58.83,444.98 L59.00,444.36 L59.25,443.97 L59.49,443.26 L59.74,442.33 L60.04,441.94 L60.40,441.22 L60.66,440.98 L60.92,440.36 L61.20,439.51 L61.50,439.45 L61.83,438.30 L62.20,437.99 L62.62,437.73 L63.10,436.86 L63.52,436.76 L63.99,436.14 L64.48,436.28 L65.00,436.07 L65.55,435.67 L66.12,435.63 L66.70,434.98 L67.29,435.01 L67.90,434.70 L68.50,434.46 L69.04,434.16 L69.55,434.23 L70.05,434.12 L70.56,433.60 L71.08,433.56 L71.63,432.96 L72.22,433.24 L72.85,433.03 L73.56,433.10 L74.33,432.80 L75.20,432.25 L75.67,432.23 L76.17,432.33 L76.69,431.79 L77.23,432.00 L77.79,431.70 L78.37,431.56 L78.96,431.42 L79.58,431.82 L80.20,431.28 L80.83,431.26 L81.47,431.27 L82.12,431.51 L82.78,430.86 L83.44,431.03 L84.10,431.00 L84.76,431.15 L85.41,431.02 L86.07,430.96 L86.71,430.47 L87.35,430.49 L87.98,430.37 L88.60,430.67 L89.20,430.65 L89.80,430.02 L90.38,429.98 L90.95,429.96 L91.51,429.90 L92.07,430.02 L92.63,430.04 L93.19,429.76 L93.74,429.53 L94.31,429.78 L94.87,429.70 L95.45,429.79 L96.04,430.02 L96.63,429.79 L97.25,429.62 L97.87,429.65 L98.52,429.65 L99.19,429.17 L99.88,429.72 L100.59,429.59 L101.33,429.61 L102.10,429.51 L102.61,429.19 L103.14,429.17 L103.70,428.93 L104.29,429.27 L104.89,428.84 L105.51,428.81 L106.16,428.87 L106.81,428.81 L107.48,428.90 L108.17,428.66 L108.86,428.59 L109.56,428.67 L110.26,428.60 L110.97,428.75 L111.68,428.48 L112.39,429.04 L113.09,428.83 L113.79,428.47 L114.49,428.51 L115.18,428.55 L115.85,428.53 L116.52,428.33 L117.16,428.81 L117.80,428.88 L118.41,428.49 L119.01,428.47 L119.58,428.17 L120.12,428.16 L120.64,428.30 L121.14,428.22 L121.60,428.60 L122.03,428.11 L122.42,428.00 L122.78,428.63 L123.10,428.30" fill="none" stroke="#22408a" stroke-width="1.7" stroke-linejoin="round" stroke-linecap="round"/>
<path d="M47.80,465.80 L51.60,465.80 L53.20,470.50 L54.70,470.50 L56.30,461.50" fill="none" stroke="#b10f3b" stroke-width="1.5" stroke-linejoin="round" stroke-linecap="round"/>
<path d="M47.80,464.70 L51.40,464.70" fill="none" stroke="#22408a" stroke-width="1.7" stroke-linejoin="round" stroke-linecap="round"/>
<text x="51.20" y="503.20" font-size="8.2" text-anchor="middle">150</text>
<line x1="51.80" y1="507.00" x2="51.80" y2="512.70" stroke="#231f20" stroke-width="0.9"/>
<path d="M51.80,515.80 L49.90,511.40 L51.80,512.20 L53.70,511.40 Z" fill="#231f20"/>
<path d="M47.80,520.50 L53.20,520.50 L54.40,525.30 L64.40,525.30 " fill="none" stroke="#b10f3b" stroke-width="1.5" stroke-linejoin="round" stroke-linecap="round"/>
<path d="M64.40,525.30 C65.75,524.42 69.69,521.82 72.50,520.00 C75.31,518.18 78.12,516.38 81.25,514.40 C84.38,512.42 87.92,509.92 91.25,508.10 C94.58,506.28 97.71,504.75 101.25,503.50 C104.79,502.25 108.86,501.42 112.50,500.60 C116.14,499.78 121.33,498.93 123.10,498.60" fill="none" stroke="#b10f3b" stroke-width="1.5" stroke-linejoin="round" stroke-linecap="round"/>
<path d="M55.80,525.20 L55.86,524.85 L55.93,524.10 L56.02,523.82 L56.11,522.82 L56.21,522.49 L56.32,522.08 L56.44,521.26 L56.56,520.40 L56.67,519.37 L56.79,518.75 L56.90,517.95 L57.00,517.79 L57.13,516.92 L57.27,516.43 L57.40,515.50 L57.53,514.82 L57.67,514.65 L57.80,514.19 L57.93,513.51 L58.07,512.86 L58.20,512.22 L58.32,511.55 L58.44,510.55 L58.56,510.10 L58.68,509.32 L58.80,508.42 L58.92,507.75 L59.04,507.27 L59.16,506.62 L59.28,506.31 L59.40,505.92 L59.55,504.88 L59.69,504.56 L59.83,503.95 L59.98,503.32 L60.12,502.32 L60.27,501.65 L60.43,501.12 L60.60,500.59 L60.88,499.85 L61.15,499.49 L61.45,499.08 L61.80,498.45 L62.20,497.59 L62.53,497.25 L62.88,496.90 L63.25,495.94 L63.65,495.88 L64.08,495.60 L64.53,495.05 L65.00,494.58 L65.44,493.97 L65.92,493.33 L66.41,493.31 L66.92,492.56 L67.45,492.46 L67.97,492.19 L68.49,491.43 L69.00,491.13 L69.64,491.20 L70.24,490.82 L70.85,490.27 L71.49,490.09 L72.19,489.96 L73.00,490.28 L73.52,490.07 L74.03,489.46 L74.55,489.77 L75.09,489.72 L75.67,489.33 L76.29,488.95 L76.96,488.92 L77.69,488.46 L78.50,488.22 L79.40,488.73 L79.88,488.43 L80.38,488.27 L80.90,488.48 L81.43,488.05 L81.98,488.28 L82.55,488.18 L83.13,487.67 L83.73,487.63 L84.34,487.58 L84.97,487.47 L85.61,487.64 L86.26,487.34 L86.93,487.38 L87.61,487.10 L88.29,487.57 L89.00,487.11 L89.71,487.11 L90.43,487.12 L91.16,487.26 L91.90,486.84 L92.44,487.13 L93.00,486.79 L93.57,486.75 L94.15,486.68 L94.74,486.27 L95.35,486.50 L95.97,486.26 L96.59,486.07 L97.22,486.57 L97.86,486.07 L98.51,486.21 L99.16,486.33 L99.81,486.15 L100.46,485.92 L101.12,485.99 L101.77,485.96 L102.42,486.05 L103.08,485.52 L103.72,485.77 L104.37,485.49 L105.00,485.45 L105.63,485.74 L106.25,485.49 L106.87,485.47 L107.47,485.55 L108.06,485.60 L108.64,485.22 L109.20,485.28 L109.88,485.14 L110.58,485.07 L111.28,485.13 L111.99,484.89 L112.71,484.87 L113.42,484.76 L114.13,485.02 L114.83,484.78 L115.53,484.83 L116.22,484.81 L116.90,484.26 L117.56,484.40 L118.20,484.61 L118.83,484.47 L119.43,483.92 L120.00,483.85 L120.55,484.02 L121.07,483.71 L121.55,483.78 L122.00,483.61 L122.41,483.99 L122.78,484.03 L123.10,483.80" fill="none" stroke="#22408a" stroke-width="1.7" stroke-linejoin="round" stroke-linecap="round"/>
<path d="M47.80,519.20 L53.40,519.20 L54.30,520.20" fill="none" stroke="#22408a" stroke-width="1.7" stroke-linejoin="round" stroke-linecap="round"/>
<text x="50.40" y="554.20" font-size="8.2" text-anchor="middle">125</text>
<line x1="51.20" y1="557.70" x2="51.20" y2="564.00" stroke="#231f20" stroke-width="0.9"/>
<path d="M51.20,567.10 L49.30,562.70 L51.20,563.50 L53.10,562.70 Z" fill="#231f20"/>
<path d="M53.50,576.90 L123.10,576.90" fill="none" stroke="#c8506e" stroke-width="1.3" stroke-linejoin="round" stroke-linecap="round"/>
<path d="M56.60,576.70 L56.87,576.80 L57.40,575.36 L57.55,575.36 L57.72,574.84 L57.91,573.95 L58.11,573.88 L58.32,573.31 L58.54,572.13 L58.75,571.96 L58.97,570.88 L59.19,570.26 L59.40,569.94 L59.57,569.27 L59.75,568.22 L59.93,567.80 L60.11,567.25 L60.30,566.50 L60.48,565.77 L60.66,565.23 L60.84,564.90 L61.01,563.79 L61.18,563.57 L61.35,562.91 L61.50,562.06 L61.69,561.56 L61.88,561.06 L62.05,560.29 L62.21,559.30 L62.37,559.29 L62.53,558.52 L62.68,558.04 L62.84,556.86 L63.00,556.44 L63.23,555.55 L63.44,555.42 L63.66,554.48 L63.88,553.83 L64.12,553.50 L64.40,553.29 L64.71,552.66 L65.05,551.71 L65.41,551.09 L65.79,551.09 L66.18,550.34 L66.60,549.94 L67.03,549.05 L67.49,548.59 L67.96,548.62 L68.46,548.03 L68.97,547.39 L69.50,547.61 L69.97,547.06 L70.46,546.85 L70.96,546.02 L71.47,546.25 L72.00,545.39 L72.54,545.64 L73.10,545.07 L73.69,544.70 L74.33,544.57 L74.98,544.56 L75.64,543.84 L76.27,543.49 L76.87,543.54 L77.40,543.12 L77.95,542.72 L78.22,542.51 L78.74,542.19 L80.00,541.99 L80.38,541.99 L80.79,541.91 L81.23,542.15 L81.70,541.74 L82.19,541.81 L82.72,541.50 L83.26,541.53 L83.83,541.21 L84.42,541.28 L85.03,541.02 L85.66,541.43 L86.30,541.21 L86.97,540.86 L87.64,540.97 L88.33,541.19 L89.03,540.51 L89.73,540.92 L90.45,540.55 L91.17,540.49 L91.90,540.63 L92.41,540.26 L92.94,540.27 L93.48,540.32 L94.04,540.45 L94.61,539.93 L95.19,540.20 L95.78,540.03 L96.38,539.91 L96.98,539.67 L97.60,539.55 L98.22,539.26 L98.85,539.24 L99.48,539.12 L100.11,539.51 L100.74,539.09 L101.38,538.95 L102.01,538.81 L102.65,539.27 L103.28,539.21 L103.90,539.00 L104.52,538.66 L105.14,538.56 L105.75,538.52 L106.35,538.57 L106.94,538.30 L107.53,538.44 L108.10,538.25 L108.65,538.68 L109.20,538.63 L109.88,538.27 L110.58,537.99 L111.28,538.43 L111.99,537.92 L112.71,537.89 L113.42,537.59 L114.13,537.80 L114.83,537.81 L115.53,537.78 L116.22,537.53 L116.90,537.69 L117.56,537.30 L118.20,537.44 L118.83,537.28 L119.43,537.46 L120.00,537.17 L120.55,537.13 L121.07,537.29 L121.55,537.21 L122.00,537.43 L122.41,537.37 L122.78,537.50 L123.10,537.30" fill="none" stroke="#22408a" stroke-width="1.7" stroke-linejoin="round" stroke-linecap="round"/>
<path d="M47.80,570.90 C48.50,570.90 51.07,570.47 52.00,570.90 C52.93,571.33 52.93,572.55 53.40,573.50 C53.87,574.45 54.27,576.07 54.80,576.60 C55.33,577.13 56.30,576.68 56.60,576.70" fill="none" stroke="#b10f3b" stroke-width="1.5" stroke-linejoin="round" stroke-linecap="round"/>
<path d="M52.20,573.20 L52.20,577.00" fill="none" stroke="#22408a" stroke-width="1.1" stroke-linejoin="round" stroke-linecap="round" stroke-dasharray="1.2 1"/>
<line x1="53.50" y1="582.80" x2="68.00" y2="582.80" stroke="#231f20" stroke-width="1.5"/>
<text x="61.30" y="592.90" font-size="8.2" text-anchor="middle" textLength="20" lengthAdjust="spacingAndGlyphs">1 min</text>
<text x="139.50" y="448.80" font-size="8.2" text-anchor="middle">10</text>
<line x1="139.40" y1="452.70" x2="139.40" y2="458.00" stroke="#231f20" stroke-width="0.9"/>
<path d="M139.40,461.10 L137.50,456.70 L139.40,457.50 L141.30,456.70 Z" fill="#231f20"/>
<path d="M152.10,470.80 C152.68,470.52 154.45,470.23 155.60,469.10 C156.75,467.97 157.85,465.73 159.00,464.00 C160.15,462.27 161.20,460.43 162.50,458.70 C163.80,456.97 165.07,455.18 166.80,453.60 C168.53,452.02 170.45,450.25 172.90,449.20 C175.35,448.15 178.33,447.63 181.50,447.30 C184.67,446.97 187.28,446.93 191.90,447.20 C196.52,447.47 203.75,448.22 209.20,448.90 C214.65,449.58 222.03,450.90 224.60,451.30" fill="none" stroke="#b10f3b" stroke-width="1.5" stroke-linejoin="round" stroke-linecap="round"/>
<path d="M144.40,470.80 L152.10,470.80" fill="none" stroke="#b10f3b" stroke-width="1.5" stroke-linejoin="round" stroke-linecap="round"/>
<path d="M146.00,470.80 L146.05,470.56 L146.12,470.17 L146.19,469.79 L146.28,468.89 L146.37,468.23 L146.47,468.03 L146.57,466.75 L146.68,466.43 L146.79,465.62 L146.89,464.44 L147.00,464.23 L147.07,463.73 L147.15,462.96 L147.23,462.43 L147.31,461.85 L147.39,460.72 L147.48,460.33 L147.56,459.63 L147.65,459.18 L147.74,458.48 L147.82,457.83 L147.91,457.00 L147.99,456.57 L148.07,455.80 L148.15,455.22 L148.23,454.33 L148.30,453.67 L148.41,452.97 L148.52,452.41 L148.62,451.57 L148.72,451.45 L148.81,450.67 L148.91,450.15 L149.00,449.62 L149.10,449.13 L149.20,448.49 L149.30,447.65 L149.47,447.42 L149.65,446.67 L149.83,445.85 L150.01,445.25 L150.20,444.73 L150.40,443.70 L150.61,443.54 L150.82,442.59 L151.04,441.86 L151.28,441.41 L151.53,441.18 L151.80,440.29 L152.11,440.11 L152.40,439.79 L152.74,438.98 L153.19,438.43 L153.80,437.99 L154.18,437.84 L154.61,437.59 L155.07,437.17 L155.56,436.85 L156.09,436.13 L156.64,435.85 L157.21,435.62 L157.79,435.67 L158.39,435.10 L159.00,435.05 L159.53,434.48 L160.02,434.35 L160.50,434.35 L160.98,434.51 L161.48,434.41 L162.02,434.29 L162.62,433.93 L163.30,433.99 L164.08,433.86 L164.97,433.77 L166.00,433.43 L166.43,433.94 L166.86,433.41 L167.29,433.92 L167.72,433.85 L168.15,433.17 L168.59,433.44 L169.04,433.66 L169.49,433.73 L169.96,433.33 L170.43,433.17 L170.93,433.09 L171.43,433.57 L171.96,433.02 L172.51,433.25 L173.07,432.91 L173.67,433.15 L174.28,433.42 L174.93,432.81 L175.60,433.26 L176.31,433.02 L177.05,433.25 L177.82,433.09 L178.63,432.74 L179.48,433.18 L180.37,432.86 L181.30,432.52 L182.28,432.48 L183.30,432.79 L183.74,432.76 L184.20,432.64 L184.68,432.52 L185.17,432.65 L185.68,432.63 L186.21,432.98 L186.75,432.39 L187.31,432.90 L187.88,432.96 L188.47,432.44 L189.07,433.00 L189.68,432.84 L190.31,432.97 L190.94,432.53 L191.59,432.58 L192.24,432.59 L192.91,433.00 L193.58,432.71 L194.26,432.54 L194.95,432.58 L195.65,432.47 L196.35,432.30 L197.05,432.33 L197.77,432.84 L198.48,432.45 L199.21,432.90 L199.93,432.41 L200.66,432.42 L201.38,432.58 L202.11,432.35 L202.84,432.47 L203.57,432.87 L204.30,432.82 L205.03,432.76 L205.76,432.63 L206.48,432.82 L207.20,432.84 L207.92,432.56 L208.63,432.67 L209.34,432.20 L210.04,432.67 L210.74,432.47 L211.43,432.67 L212.11,432.59 L212.78,432.34 L213.45,432.17 L214.10,432.78 L214.75,432.21 L215.38,432.45 L216.00,432.35 L216.62,432.32 L217.22,432.62 L217.80,432.79 L218.37,432.28 L218.93,432.55 L219.48,432.30 L220.00,432.48 L220.51,432.36 L221.01,432.20 L221.49,432.19 L221.95,432.22 L222.39,432.70 L222.81,432.41 L223.21,432.22 L223.59,432.69 L223.95,432.75 L224.28,432.37 L224.60,432.40" fill="none" stroke="#22408a" stroke-width="1.7" stroke-linejoin="round" stroke-linecap="round"/>
<path d="M135.40,465.30 C136.00,465.30 138.07,465.12 139.00,465.30 C139.93,465.48 140.37,465.80 141.00,466.40 C141.63,467.00 142.20,468.17 142.80,468.90 C143.40,469.63 144.07,470.48 144.60,470.80 C145.13,471.12 145.77,470.80 146.00,470.80" fill="none" stroke="#22408a" stroke-width="1.7" stroke-linejoin="round" stroke-linecap="round"/>
<path d="M139.20,466.00 L139.20,468.00" fill="none" stroke="#c8506e" stroke-width="1.1" stroke-linejoin="round" stroke-linecap="round"/>
<text x="138.30" y="503.70" font-size="8.2" text-anchor="middle">7.5</text>
<line x1="137.70" y1="506.90" x2="137.70" y2="512.50" stroke="#231f20" stroke-width="0.9"/>
<path d="M137.70,515.60 L135.80,511.20 L137.70,512.00 L139.60,511.20 Z" fill="#231f20"/>
<path d="M158.80,525.20 C159.77,524.72 162.35,522.95 164.60,522.30 C166.85,521.65 168.45,521.52 172.30,521.30 C176.15,521.08 179.05,521.22 187.70,521.00 C196.35,520.78 218.12,520.17 224.20,520.00" fill="none" stroke="#b10f3b" stroke-width="1.5" stroke-linejoin="round" stroke-linecap="round"/>
<path d="M144.40,525.20 L158.80,525.20" fill="none" stroke="#b10f3b" stroke-width="1.5" stroke-linejoin="round" stroke-linecap="round"/>
<path d="M145.20,525.20 L145.24,524.58 L145.29,524.17 L145.34,523.57 L145.40,523.15 L145.47,522.32 L145.54,521.72 L145.62,521.00 L145.71,520.44 L145.80,519.87 L145.90,518.97 L145.97,518.22 L146.04,517.66 L146.11,517.15 L146.19,516.44 L146.28,515.78 L146.36,514.94 L146.45,514.44 L146.54,514.26 L146.63,513.02 L146.72,512.63 L146.80,512.07 L146.89,511.61 L146.97,510.55 L147.05,510.01 L147.13,509.44 L147.20,509.03 L147.30,508.29 L147.40,507.92 L147.49,507.17 L147.57,506.54 L147.65,505.33 L147.73,504.75 L147.81,504.66 L147.90,504.25 L148.00,503.41 L148.10,502.96 L148.25,501.82 L148.40,501.42 L148.56,501.17 L148.73,500.49 L148.92,499.92 L149.14,499.42 L149.40,498.32 L149.69,497.63 L150.00,497.06 L150.33,496.72 L150.69,496.25 L151.09,495.87 L151.52,495.17 L152.00,494.60 L152.45,494.25 L152.93,493.62 L153.44,493.29 L153.97,492.54 L154.54,492.69 L155.13,491.95 L155.75,492.10 L156.40,491.60 L156.94,491.13 L157.51,490.79 L158.10,490.68 L158.71,490.77 L159.34,490.63 L159.98,490.05 L160.62,489.86 L161.28,490.03 L161.94,489.91 L162.60,489.62 L163.16,489.37 L163.67,489.50 L164.15,488.96 L164.62,489.04 L165.10,489.04 L165.62,489.27 L166.20,488.94 L166.87,489.00 L167.64,488.60 L168.54,488.32 L169.60,488.22 L170.02,488.68 L170.45,488.46 L170.88,488.14 L171.32,487.90 L171.76,488.20 L172.22,488.28 L172.68,488.06 L173.15,487.91 L173.63,488.16 L174.13,488.30 L174.64,487.77 L175.16,487.60 L175.69,487.77 L176.24,487.79 L176.81,487.93 L177.39,487.56 L177.99,487.94 L178.60,487.86 L179.24,487.66 L179.89,487.42 L180.57,487.92 L181.26,487.42 L181.98,487.74 L182.72,487.30 L183.49,487.26 L184.28,487.60 L185.09,487.25 L185.94,487.67 L186.80,487.33 L187.70,487.08 L188.17,487.09 L188.65,487.21 L189.15,487.37 L189.67,487.56 L190.21,486.98 L190.77,487.14 L191.34,487.00 L191.93,487.52 L192.53,486.93 L193.14,486.85 L193.77,486.84 L194.41,487.06 L195.06,487.40 L195.72,487.38 L196.39,487.26 L197.07,487.44 L197.75,487.38 L198.45,486.94 L199.15,486.83 L199.86,487.35 L200.57,487.20 L201.28,486.69 L202.00,487.12 L202.73,486.91 L203.45,486.90 L204.18,486.86 L204.91,486.73 L205.63,486.60 L206.36,486.79 L207.08,486.83 L207.80,487.24 L208.52,486.65 L209.23,487.23 L209.94,486.69 L210.65,486.78 L211.34,487.10 L212.04,487.09 L212.72,486.81 L213.39,486.53 L214.06,486.82 L214.71,486.74 L215.35,487.11 L215.98,486.60 L216.60,486.71 L217.21,487.07 L217.80,486.46 L218.38,486.72 L218.94,486.99 L219.49,486.95 L220.02,486.44 L220.53,486.43 L221.02,486.44 L221.49,487.03 L221.95,486.56 L222.38,486.90 L222.79,487.00 L223.18,486.60 L223.54,486.55 L223.88,487.03 L224.20,486.70" fill="none" stroke="#22408a" stroke-width="1.7" stroke-linejoin="round" stroke-linecap="round"/>
<path d="M135.40,520.50 C135.90,520.50 137.58,520.32 138.40,520.50 C139.22,520.68 139.70,521.08 140.30,521.60 C140.90,522.12 141.30,522.98 142.00,523.60 C142.70,524.22 143.93,525.03 144.50,525.30 C145.07,525.57 145.25,525.22 145.40,525.20" fill="none" stroke="#22408a" stroke-width="1.7" stroke-linejoin="round" stroke-linecap="round"/>
<path d="M138.20,522.20 L138.20,523.80" fill="none" stroke="#c8506e" stroke-width="1.1" stroke-linejoin="round" stroke-linecap="round"/>
<text x="138.30" y="556.00" font-size="8.2" text-anchor="middle">2.5</text>
<line x1="138.20" y1="559.30" x2="138.20" y2="564.70" stroke="#231f20" stroke-width="0.9"/>
<path d="M138.20,567.80 L136.30,563.40 L138.20,564.20 L140.10,563.40 Z" fill="#231f20"/>
<path d="M144.20,576.70 C146.83,576.68 154.03,576.72 160.00,576.60 C165.97,576.48 173.33,576.22 180.00,576.00 C186.67,575.78 192.50,575.60 200.00,575.30 C207.50,575.00 220.83,574.38 225.00,574.20" fill="none" stroke="#b10f3b" stroke-width="1.5" stroke-linejoin="round" stroke-linecap="round"/>
<path d="M145.20,576.40 L145.23,576.15 L145.26,575.52 L145.30,575.40 L145.34,574.64 L145.39,574.09 L145.44,573.34 L145.49,573.27 L145.54,572.76 L145.60,571.91 L145.66,571.45 L145.72,570.11 L145.78,569.54 L145.84,568.98 L145.91,568.59 L145.97,567.85 L146.03,566.71 L146.10,565.88 L146.17,565.28 L146.23,564.60 L146.29,564.20 L146.36,562.99 L146.42,562.76 L146.48,562.07 L146.54,561.52 L146.60,560.91 L146.65,560.25 L146.70,559.55 L146.75,559.08 L146.80,558.70 L146.95,557.79 L147.08,556.41 L147.20,555.85 L147.31,555.78 L147.42,555.06 L147.54,554.60 L147.66,554.19 L147.80,554.04 L147.95,553.28 L148.09,553.16 L148.23,552.51 L148.38,552.00 L148.55,550.90 L148.74,550.17 L148.95,549.56 L149.20,549.20 L149.42,548.80 L149.67,548.04 L149.93,547.28 L150.20,546.79 L150.49,546.32 L150.80,545.74 L151.11,545.21 L151.43,544.72 L151.76,544.08 L152.10,543.23 L152.53,543.23 L152.98,542.40 L153.45,542.19 L153.93,541.70 L154.43,541.63 L154.94,540.95 L155.46,540.70 L156.00,540.42 L156.54,540.10 L157.07,540.38 L157.61,539.96 L158.16,539.60 L158.75,539.48 L159.38,539.74 L160.06,539.25 L160.80,538.91 L161.32,539.22 L161.84,539.02 L162.37,539.17 L162.91,538.46 L163.47,538.64 L164.06,538.81 L164.68,538.75 L165.34,538.74 L166.05,538.06 L166.81,538.18 L167.62,537.99 L168.50,537.98 L168.97,538.50 L169.45,538.20 L169.92,538.42 L170.40,538.00 L170.88,538.32 L171.37,538.01 L171.87,537.85 L172.38,538.19 L172.90,538.29 L173.44,537.68 L174.00,538.01 L174.57,538.01 L175.16,537.71 L175.78,537.79 L176.42,537.61 L177.09,537.64 L177.79,537.66 L178.52,537.88 L179.28,537.89 L180.08,537.56 L180.91,537.40 L181.79,537.60 L182.70,537.82 L183.16,537.47 L183.63,537.54 L184.13,537.46 L184.64,537.86 L185.16,537.67 L185.71,537.32 L186.26,537.33 L186.83,537.52 L187.41,537.61 L188.01,537.66 L188.62,537.26 L189.23,537.29 L189.86,537.65 L190.49,537.43 L191.14,537.33 L191.79,537.33 L192.44,537.76 L193.10,537.30 L193.77,537.46 L194.44,537.30 L195.11,537.32 L195.79,537.62 L196.47,537.69 L197.14,537.24 L197.82,537.10 L198.50,537.46 L199.17,537.08 L199.85,536.92 L200.51,537.54 L201.18,537.19 L201.84,537.45 L202.49,537.15 L203.14,537.47 L203.78,537.16 L204.41,536.94 L205.03,536.83 L205.65,537.19 L206.25,537.25 L206.84,537.43 L207.42,536.84 L207.98,537.21 L208.53,537.03 L209.07,537.12 L209.59,536.86 L210.09,536.95 L210.58,537.12 L211.05,537.40 L211.50,536.83 L212.44,537.10 L213.35,537.33 L214.23,537.45 L215.07,536.93 L215.88,536.91 L216.65,537.50 L217.39,537.56 L218.10,537.24 L218.78,536.98 L219.43,537.62 L220.05,537.28 L220.64,537.68 L221.20,537.52 L221.73,537.70 L222.23,537.27 L222.71,537.75 L223.15,537.39 L223.57,537.54 L223.97,537.88 L224.34,537.89 L224.68,537.46 L225.00,537.70" fill="none" stroke="#22408a" stroke-width="1.7" stroke-linejoin="round" stroke-linecap="round"/>
<path d="M135.30,571.80 C135.80,571.80 137.42,571.57 138.30,571.80 C139.18,572.03 139.88,572.62 140.60,573.20 C141.32,573.78 141.93,574.72 142.60,575.30 C143.27,575.88 144.13,576.48 144.60,576.70 C145.07,576.92 145.27,576.62 145.40,576.60" fill="none" stroke="#22408a" stroke-width="1.7" stroke-linejoin="round" stroke-linecap="round"/>
<path d="M137.60,573.00 L137.60,577.50" fill="none" stroke="#c8506e" stroke-width="1.0" stroke-linejoin="round" stroke-linecap="round" stroke-dasharray="1.2 1"/>
<line x1="139.20" y1="582.90" x2="148.70" y2="582.90" stroke="#231f20" stroke-width="1.5"/>
<text x="144.40" y="592.50" font-size="8.2" text-anchor="middle" textLength="18.8" lengthAdjust="spacingAndGlyphs">1 min</text>
<text x="240.40" y="448.50" font-size="8.2" text-anchor="middle">100</text>
<line x1="240.00" y1="452.90" x2="240.00" y2="458.00" stroke="#231f20" stroke-width="0.9"/>
<path d="M240.00,461.10 L238.10,456.70 L240.00,457.50 L241.90,456.70 Z" fill="#231f20"/>
<path d="M241.30,470.80 C244.92,470.80 256.55,470.85 263.00,470.80 C269.45,470.75 274.67,470.63 280.00,470.50 C285.33,470.37 289.58,470.17 295.00,470.00 C300.42,469.83 309.58,469.58 312.50,469.50" fill="none" stroke="#bb2a50" stroke-width="1.25" stroke-linejoin="round" stroke-linecap="round"/>
<path d="M243.30,470.80 L243.40,470.24 L243.52,469.90 L243.66,469.43 L243.83,468.73 L244.00,467.88 L244.19,467.26 L244.38,466.87 L244.57,466.26 L244.75,464.94 L244.93,464.60 L245.10,464.08 L245.24,462.99 L245.39,462.96 L245.53,461.85 L245.67,461.59 L245.81,460.95 L245.95,460.40 L246.09,459.58 L246.23,459.06 L246.37,458.58 L246.51,457.89 L246.66,457.48 L246.80,456.76 L246.97,456.08 L247.15,455.12 L247.32,454.86 L247.50,454.10 L247.68,453.26 L247.85,452.99 L248.03,452.38 L248.22,451.56 L248.41,450.80 L248.60,450.48 L248.87,449.54 L249.14,448.93 L249.41,448.58 L249.69,447.81 L249.99,447.55 L250.32,447.11 L250.70,446.28 L251.11,446.20 L251.55,445.33 L252.02,445.32 L252.52,444.90 L253.05,444.27 L253.61,443.52 L254.20,443.40 L254.68,442.98 L255.17,443.05 L255.68,442.16 L256.21,442.34 L256.76,442.12 L257.33,441.63 L257.93,441.39 L258.55,440.66 L259.20,440.94 L259.71,440.39 L260.25,440.52 L260.81,440.31 L261.39,439.60 L261.98,439.86 L262.58,439.78 L263.19,439.01 L263.80,439.04 L264.41,439.16 L265.02,438.58 L265.61,438.94 L266.20,438.34 L266.82,438.55 L267.42,437.90 L268.02,437.97 L268.60,438.09 L269.19,437.42 L269.79,437.30 L270.40,437.31 L271.03,437.03 L271.68,436.70 L272.37,436.68 L273.10,436.56 L273.63,437.04 L274.17,436.81 L274.73,436.91 L275.31,436.36 L275.90,436.75 L276.50,436.25 L277.11,436.51 L277.73,436.56 L278.35,436.34 L278.98,436.69 L279.61,436.45 L280.24,436.46 L280.86,436.67 L281.48,436.12 L282.10,436.74 L282.70,436.49 L283.30,436.33 L283.90,436.63 L284.50,436.27 L285.10,436.80 L285.70,436.54 L286.30,436.41 L286.90,436.73 L287.50,436.54 L288.10,436.39 L288.70,436.83 L289.30,436.38 L289.90,436.96 L290.50,436.61 L291.10,436.92 L291.70,437.20 L292.30,436.96 L292.90,437.05 L293.49,436.84 L294.09,436.65 L294.68,436.71 L295.27,436.82 L295.86,437.18 L296.45,437.09 L297.04,437.18 L297.63,437.48 L298.23,436.99 L298.83,437.10 L299.43,437.45 L300.04,437.06 L300.65,437.11 L301.27,437.42 L301.90,437.32 L302.51,437.58 L303.17,437.58 L303.85,437.93 L304.55,438.05 L305.27,437.90 L305.99,438.31 L306.72,438.34 L307.44,438.22 L308.15,438.91 L308.84,438.55 L309.50,438.61 L310.13,438.69 L310.71,439.17 L311.25,439.44 L311.73,439.46 L312.15,439.27 L312.50,439.40" fill="none" stroke="#22408a" stroke-width="1.7" stroke-linejoin="round" stroke-linecap="round"/>
<path d="M236.50,465.40 L240.60,465.40 L241.60,470.80 L244.20,470.80" fill="none" stroke="#b10f3b" stroke-width="1.5" stroke-linejoin="round" stroke-linecap="round"/>
<text x="239.40" y="503.10" font-size="8.2" text-anchor="middle">30</text>
<line x1="239.60" y1="506.90" x2="239.60" y2="513.00" stroke="#231f20" stroke-width="0.9"/>
<path d="M239.60,516.10 L237.70,511.70 L239.60,512.50 L241.50,511.70 Z" fill="#231f20"/>
<path d="M241.30,525.20 C243.58,525.20 250.22,525.30 255.00,525.20 C259.78,525.10 264.17,524.83 270.00,524.60 C275.83,524.37 282.92,524.08 290.00,523.80 C297.08,523.52 308.75,523.05 312.50,522.90" fill="none" stroke="#bb2a50" stroke-width="1.25" stroke-linejoin="round" stroke-linecap="round"/>
<path d="M242.90,525.20 L242.96,524.69 L243.04,524.10 L243.13,524.07 L243.23,523.48 L243.33,522.75 L243.45,522.34 L243.57,521.54 L243.70,521.20 L243.83,520.36 L243.96,519.30 L244.10,519.04 L244.23,517.71 L244.37,517.34 L244.50,516.55 L244.63,515.76 L244.76,514.99 L244.88,514.88 L244.99,513.78 L245.10,513.64 L245.26,513.16 L245.41,511.89 L245.56,511.27 L245.70,510.93 L245.84,510.26 L245.97,509.79 L246.11,509.36 L246.24,508.39 L246.38,507.97 L246.52,507.46 L246.66,506.78 L246.80,506.87 L247.02,506.07 L247.24,505.32 L247.45,504.17 L247.68,504.12 L247.90,503.45 L248.13,502.67 L248.36,502.31 L248.60,501.57 L248.92,500.74 L249.23,500.05 L249.54,499.57 L249.89,498.89 L250.27,498.55 L250.70,498.27 L251.06,497.79 L251.44,497.45 L251.84,496.90 L252.27,496.14 L252.72,495.90 L253.19,495.38 L253.68,495.21 L254.20,494.62 L254.68,494.09 L255.17,494.02 L255.68,493.92 L256.21,493.08 L256.76,493.23 L257.33,492.32 L257.93,492.20 L258.55,491.90 L259.20,491.97 L259.71,491.90 L260.23,491.56 L260.77,491.06 L261.32,491.24 L261.88,490.65 L262.46,490.40 L263.05,490.68 L263.66,490.31 L264.28,490.18 L264.91,490.00 L265.55,490.07 L266.20,489.58 L266.77,489.73 L267.34,489.53 L267.92,489.55 L268.50,489.17 L269.10,489.29 L269.70,489.11 L270.32,488.86 L270.95,488.73 L271.58,488.97 L272.24,488.54 L272.90,489.08 L273.59,488.51 L274.28,488.39 L275.00,488.42 L275.54,488.99 L276.08,488.57 L276.62,488.42 L277.18,488.34 L277.73,488.35 L278.30,488.81 L278.87,488.78 L279.45,488.83 L280.04,488.88 L280.64,488.42 L281.24,488.81 L281.86,488.68 L282.49,489.02 L283.13,489.05 L283.78,489.13 L284.44,488.59 L285.11,489.18 L285.80,489.25 L286.50,489.31 L287.05,488.76 L287.61,488.86 L288.20,488.83 L288.80,488.82 L289.41,489.43 L290.03,489.45 L290.66,489.37 L291.31,489.55 L291.96,489.47 L292.61,489.28 L293.27,489.20 L293.93,489.25 L294.59,489.76 L295.24,489.43 L295.90,489.56 L296.55,489.69 L297.19,489.46 L297.83,489.68 L298.45,489.75 L299.06,490.11 L299.67,489.92 L300.25,489.93 L300.82,490.43 L301.37,490.16 L301.90,490.45 L302.67,490.35 L303.43,490.00 L304.19,490.34 L304.95,490.43 L305.69,490.73 L306.42,490.50 L307.14,490.82 L307.83,490.77 L308.49,490.61 L309.13,491.12 L309.74,490.64 L310.31,491.21 L310.84,490.81 L311.33,490.74 L311.77,490.92 L312.16,491.35 L312.50,491.20" fill="none" stroke="#22408a" stroke-width="1.7" stroke-linejoin="round" stroke-linecap="round"/>
<path d="M236.20,519.60 L240.60,519.60 L241.60,525.20 L243.30,525.20" fill="none" stroke="#b10f3b" stroke-width="1.5" stroke-linejoin="round" stroke-linecap="round"/>
<line x1="242.70" y1="531.20" x2="257.30" y2="531.20" stroke="#231f20" stroke-width="1.5"/>
<text x="250.20" y="540.80" font-size="8.2" text-anchor="middle" textLength="19.6" lengthAdjust="spacingAndGlyphs">1 min</text>
<line x1="245.90" y1="563.80" x2="255.00" y2="563.80" stroke="#22408a" stroke-width="1.6"/>
<text x="258.60" y="565.40" font-size="8.2" font-style="italic" textLength="26.8" lengthAdjust="spacingAndGlyphs">Control</text>
<line x1="245.90" y1="577.90" x2="255.00" y2="577.90" stroke="#b10f3b" stroke-width="1.6"/>
<text x="258.60" y="581.50" font-size="8.2" font-style="italic" textLength="68.7" lengthAdjust="spacingAndGlyphs">Tln1-mR35E,R118E</text>
<line x1="397.90" y1="433.30" x2="397.90" y2="552.80" stroke="#231f20" stroke-width="1.8"/>
<line x1="397.00" y1="552.10" x2="512.50" y2="552.10" stroke="#231f20" stroke-width="1.5"/>
<line x1="394.70" y1="552.10" x2="397.90" y2="552.10" stroke="#231f20" stroke-width="1.0"/>
<line x1="396.20" y1="540.50" x2="397.90" y2="540.50" stroke="#231f20" stroke-width="0.9"/>
<line x1="394.70" y1="528.90" x2="397.90" y2="528.90" stroke="#231f20" stroke-width="1.0"/>
<line x1="396.20" y1="517.30" x2="397.90" y2="517.30" stroke="#231f20" stroke-width="0.9"/>
<line x1="394.70" y1="505.70" x2="397.90" y2="505.70" stroke="#231f20" stroke-width="1.0"/>
<line x1="396.20" y1="494.10" x2="397.90" y2="494.10" stroke="#231f20" stroke-width="0.9"/>
<line x1="394.70" y1="482.50" x2="397.90" y2="482.50" stroke="#231f20" stroke-width="1.0"/>
<line x1="396.20" y1="470.90" x2="397.90" y2="470.90" stroke="#231f20" stroke-width="0.9"/>
<line x1="394.70" y1="459.30" x2="397.90" y2="459.30" stroke="#231f20" stroke-width="1.0"/>
<line x1="396.20" y1="447.70" x2="397.90" y2="447.70" stroke="#231f20" stroke-width="0.9"/>
<line x1="394.70" y1="436.10" x2="397.90" y2="436.10" stroke="#231f20" stroke-width="1.0"/>
<text x="391.30" y="555.10" font-size="9.2" text-anchor="end" textLength="4.5" lengthAdjust="spacingAndGlyphs">0</text>
<text x="391.30" y="531.90" font-size="9.2" text-anchor="end" textLength="13.5" lengthAdjust="spacingAndGlyphs">120</text>
<text x="391.30" y="508.70" font-size="9.2" text-anchor="end" textLength="13.5" lengthAdjust="spacingAndGlyphs">240</text>
<text x="391.30" y="485.50" font-size="9.2" text-anchor="end" textLength="13.5" lengthAdjust="spacingAndGlyphs">360</text>
<text x="391.30" y="462.30" font-size="9.2" text-anchor="end" textLength="13.5" lengthAdjust="spacingAndGlyphs">480</text>
<text x="391.30" y="439.10" font-size="9.2" text-anchor="end" textLength="18.23" lengthAdjust="spacingAndGlyphs">&gt;600</text>
<text x="365.10" y="492.20" font-size="9.4" text-anchor="middle" textLength="70.6" lengthAdjust="spacingAndGlyphs" transform="rotate(-90 365.10 492.20)">Bleeding time (sec)</text>
<line x1="416.90" y1="552.10" x2="416.90" y2="554.90" stroke="#231f20" stroke-width="1.0"/>
<line x1="454.50" y1="552.10" x2="454.50" y2="554.90" stroke="#231f20" stroke-width="1.0"/>
<line x1="492.30" y1="552.10" x2="492.30" y2="554.90" stroke="#231f20" stroke-width="1.0"/>
<text x="419.60" y="563.00" font-size="9.0" text-anchor="end" font-style="italic" textLength="27.6" lengthAdjust="spacingAndGlyphs" transform="rotate(-45 419.60 563.00)">Control</text>
<text x="458.20" y="563.20" font-size="9.0" text-anchor="end" font-style="italic" textLength="50.6" lengthAdjust="spacingAndGlyphs" transform="rotate(-45 458.20 563.20)">Tln1-mR118E</text>
<text x="496.80" y="562.80" font-size="9.0" text-anchor="end" font-style="italic" textLength="74.2" lengthAdjust="spacingAndGlyphs" transform="rotate(-45 496.80 562.80)">Tln1-mR35E,R118E</text>
<circle cx="418.80" cy="539.60" r="1.5" fill="#23407f"/>
<circle cx="424.50" cy="542.30" r="1.5" fill="#23407f"/>
<circle cx="418.70" cy="544.00" r="1.5" fill="#23407f"/>
<circle cx="405.40" cy="545.40" r="1.5" fill="#23407f"/>
<circle cx="409.20" cy="544.50" r="1.5" fill="#23407f"/>
<circle cx="407.30" cy="546.90" r="1.5" fill="#23407f"/>
<circle cx="411.20" cy="546.50" r="1.5" fill="#23407f"/>
<circle cx="415.00" cy="549.60" r="1.5" fill="#23407f"/>
<circle cx="416.90" cy="547.00" r="1.5" fill="#23407f"/>
<circle cx="418.80" cy="546.50" r="1.5" fill="#23407f"/>
<circle cx="421.50" cy="545.50" r="1.5" fill="#23407f"/>
<circle cx="426.20" cy="545.00" r="1.5" fill="#23407f"/>
<circle cx="428.50" cy="544.20" r="1.5" fill="#23407f"/>
<circle cx="413.00" cy="545.20" r="1.5" fill="#23407f"/>
<circle cx="423.50" cy="546.00" r="1.5" fill="#23407f"/>
<line x1="404.20" y1="545.40" x2="429.60" y2="545.40" stroke="#111" stroke-width="1.8"/>
<circle cx="455.20" cy="480.40" r="1.6" fill="#5ba532"/>
<circle cx="455.20" cy="500.00" r="1.6" fill="#5ba532"/>
<circle cx="455.20" cy="511.60" r="1.6" fill="#5ba532"/>
<circle cx="449.00" cy="519.40" r="1.6" fill="#5ba532"/>
<circle cx="455.20" cy="521.30" r="1.6" fill="#5ba532"/>
<circle cx="461.30" cy="522.30" r="1.6" fill="#5ba532"/>
<circle cx="449.00" cy="523.70" r="1.6" fill="#5ba532"/>
<circle cx="455.20" cy="528.50" r="1.6" fill="#5ba532"/>
<circle cx="450.60" cy="533.80" r="1.6" fill="#5ba532"/>
<circle cx="453.00" cy="536.40" r="1.6" fill="#5ba532"/>
<circle cx="457.40" cy="534.30" r="1.6" fill="#5ba532"/>
<circle cx="459.50" cy="532.40" r="1.6" fill="#5ba532"/>
<circle cx="458.80" cy="536.40" r="1.6" fill="#5ba532"/>
<circle cx="443.70" cy="542.90" r="1.6" fill="#5ba532"/>
<circle cx="445.80" cy="544.80" r="1.6" fill="#5ba532"/>
<circle cx="448.00" cy="543.60" r="1.6" fill="#5ba532"/>
<circle cx="450.60" cy="548.70" r="1.6" fill="#5ba532"/>
<circle cx="452.30" cy="545.80" r="1.6" fill="#5ba532"/>
<circle cx="455.20" cy="543.60" r="1.6" fill="#5ba532"/>
<circle cx="455.90" cy="546.50" r="1.6" fill="#5ba532"/>
<circle cx="458.10" cy="545.10" r="1.6" fill="#5ba532"/>
<circle cx="459.50" cy="548.70" r="1.6" fill="#5ba532"/>
<circle cx="461.70" cy="544.40" r="1.6" fill="#5ba532"/>
<circle cx="463.90" cy="545.10" r="1.6" fill="#5ba532"/>
<circle cx="466.00" cy="543.60" r="1.6" fill="#5ba532"/>
<circle cx="453.80" cy="541.90" r="1.6" fill="#5ba532"/>
<circle cx="449.40" cy="541.50" r="1.6" fill="#5ba532"/>
<circle cx="463.20" cy="542.20" r="1.6" fill="#5ba532"/>
<circle cx="446.50" cy="547.50" r="1.6" fill="#5ba532"/>
<circle cx="461.00" cy="547.80" r="1.6" fill="#5ba532"/>
<circle cx="443.80" cy="436.30" r="1.6" fill="#5ba532"/>
<circle cx="448.20" cy="436.30" r="1.6" fill="#5ba532"/>
<circle cx="452.80" cy="436.30" r="1.6" fill="#5ba532"/>
<circle cx="457.30" cy="436.30" r="1.6" fill="#5ba532"/>
<circle cx="462.00" cy="436.30" r="1.6" fill="#5ba532"/>
<circle cx="466.30" cy="436.30" r="1.6" fill="#5ba532"/>
<line x1="442.20" y1="540.00" x2="467.90" y2="540.00" stroke="#111" stroke-width="1.4"/>
<text x="455.10" y="431.70" font-size="7.6" text-anchor="middle">ns</text>
<circle cx="493.40" cy="483.70" r="1.8" fill="#a5002a"/>
<circle cx="493.40" cy="489.90" r="1.8" fill="#a5002a"/>
<circle cx="493.40" cy="501.40" r="1.8" fill="#a5002a"/>
<circle cx="493.40" cy="507.10" r="1.8" fill="#a5002a"/>
<circle cx="486.20" cy="518.80" r="1.8" fill="#a5002a"/>
<circle cx="493.40" cy="518.00" r="1.8" fill="#a5002a"/>
<circle cx="500.60" cy="518.30" r="1.8" fill="#a5002a"/>
<circle cx="486.20" cy="524.40" r="1.8" fill="#a5002a"/>
<circle cx="493.40" cy="524.80" r="1.8" fill="#a5002a"/>
<circle cx="500.60" cy="522.90" r="1.8" fill="#a5002a"/>
<circle cx="486.20" cy="529.60" r="1.8" fill="#a5002a"/>
<circle cx="500.60" cy="527.40" r="1.8" fill="#a5002a"/>
<circle cx="489.80" cy="535.30" r="1.8" fill="#a5002a"/>
<circle cx="497.00" cy="533.90" r="1.8" fill="#a5002a"/>
<line x1="482.5" y1="436.0" x2="504.3" y2="436.0" stroke="#b0002c" stroke-width="3.9" stroke-linecap="round"/>
<line x1="482.4" y1="436.0" x2="504.4" y2="436.0" stroke="#0a0000" stroke-width="2.3" stroke-linecap="round"/>
<polygon points="489.60,426.20 490.06,427.12 491.07,427.27 490.34,427.99 490.51,429.00 489.60,428.52 488.69,429.00 488.86,427.99 488.13,427.27 489.14,427.12" fill="#1a1a1a" stroke="#1a1a1a" stroke-width="0.35" stroke-linejoin="round"/>
<polygon points="493.30,426.20 493.76,427.12 494.77,427.27 494.04,427.99 494.21,429.00 493.30,428.52 492.39,429.00 492.56,427.99 491.83,427.27 492.84,427.12" fill="#1a1a1a" stroke="#1a1a1a" stroke-width="0.35" stroke-linejoin="round"/>
<polygon points="497.00,426.20 497.46,427.12 498.47,427.27 497.74,427.99 497.91,429.00 497.00,428.52 496.09,429.00 496.26,427.99 495.53,427.27 496.54,427.12" fill="#1a1a1a" stroke="#1a1a1a" stroke-width="0.35" stroke-linejoin="round"/>
<line x1="442.10" y1="419.50" x2="505.80" y2="419.50" stroke="#231f20" stroke-width="1.0"/>
<polygon points="470.00,413.80 470.46,414.72 471.47,414.87 470.74,415.59 470.91,416.60 470.00,416.12 469.09,416.60 469.26,415.59 468.53,414.87 469.54,414.72" fill="#1a1a1a" stroke="#1a1a1a" stroke-width="0.35" stroke-linejoin="round"/>
<polygon points="473.70,413.80 474.16,414.72 475.17,414.87 474.44,415.59 474.61,416.60 473.70,416.12 472.79,416.60 472.96,415.59 472.23,414.87 473.24,414.72" fill="#1a1a1a" stroke="#1a1a1a" stroke-width="0.35" stroke-linejoin="round"/>
<polygon points="477.40,413.80 477.86,414.72 478.87,414.87 478.14,415.59 478.31,416.60 477.40,416.12 476.49,416.60 476.66,415.59 475.93,414.87 476.94,414.72" fill="#1a1a1a" stroke="#1a1a1a" stroke-width="0.35" stroke-linejoin="round"/>
<rect x="0.6" y="0.6" width="518.6" height="622.6" fill="none" stroke="#000" stroke-width="1.3"/>
</svg>
</body></html>
